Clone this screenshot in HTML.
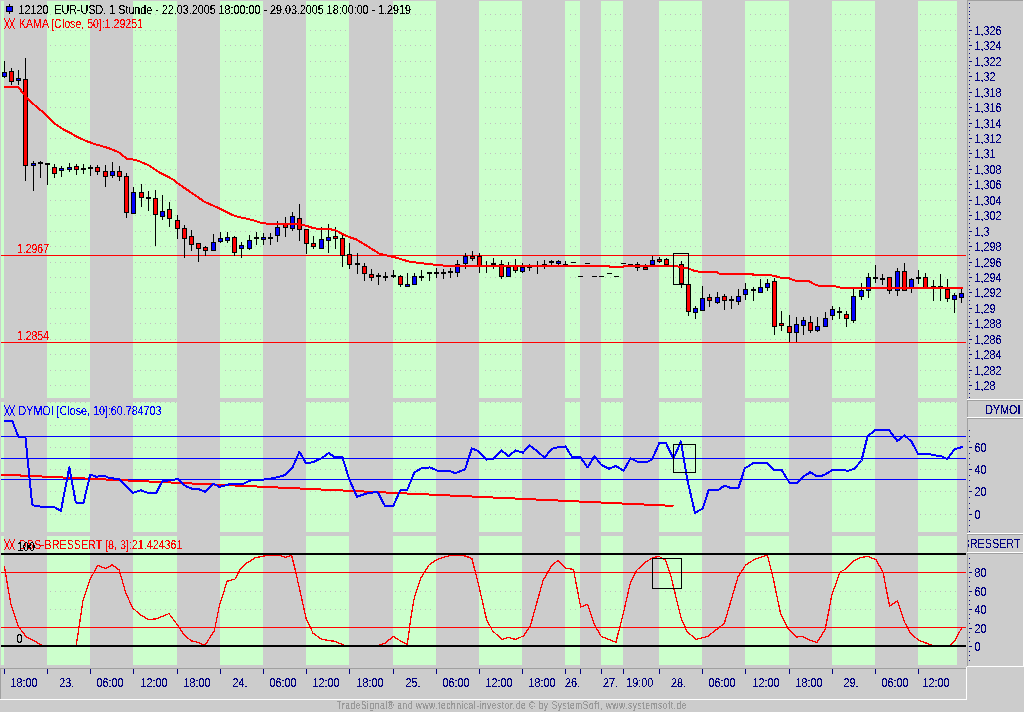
<!DOCTYPE html>
<html><head><meta charset="utf-8"><style>html,body{margin:0;padding:0;background:#cccccc;overflow:hidden}svg{display:block}text{font-family:"Liberation Sans",sans-serif}</style></head>
<body><svg width="1024" height="712" viewBox="0 0 1024 712" font-family="Liberation Sans, sans-serif"><defs><filter id="crisp" x="-0.1" y="-0.5" width="1.2" height="2"><feComponentTransfer><feFuncA type="discrete" tableValues="0 0 1 1 1"/></feComponentTransfer></filter></defs>
<rect x="0" y="0" width="1024" height="712" fill="#cccccc"/>
<rect x="1" y="1" width="3" height="397" fill="#ccffcc"/>
<rect x="47" y="1" width="43" height="397" fill="#ccffcc"/>
<rect x="133" y="1" width="44" height="397" fill="#ccffcc"/>
<rect x="220" y="1" width="43" height="397" fill="#ccffcc"/>
<rect x="306" y="1" width="43" height="397" fill="#ccffcc"/>
<rect x="393" y="1" width="43" height="397" fill="#ccffcc"/>
<rect x="479" y="1" width="43" height="397" fill="#ccffcc"/>
<rect x="565" y="1" width="15" height="397" fill="#ccffcc"/>
<rect x="601" y="1" width="22" height="397" fill="#ccffcc"/>
<rect x="659" y="1" width="43" height="397" fill="#ccffcc"/>
<rect x="745" y="1" width="44" height="397" fill="#ccffcc"/>
<rect x="832" y="1" width="43" height="397" fill="#ccffcc"/>
<rect x="918" y="1" width="39" height="397" fill="#ccffcc"/>
<rect x="1" y="402" width="3" height="130" fill="#ccffcc"/>
<rect x="47" y="402" width="43" height="130" fill="#ccffcc"/>
<rect x="133" y="402" width="44" height="130" fill="#ccffcc"/>
<rect x="220" y="402" width="43" height="130" fill="#ccffcc"/>
<rect x="306" y="402" width="43" height="130" fill="#ccffcc"/>
<rect x="393" y="402" width="43" height="130" fill="#ccffcc"/>
<rect x="479" y="402" width="43" height="130" fill="#ccffcc"/>
<rect x="565" y="402" width="15" height="130" fill="#ccffcc"/>
<rect x="601" y="402" width="22" height="130" fill="#ccffcc"/>
<rect x="659" y="402" width="43" height="130" fill="#ccffcc"/>
<rect x="745" y="402" width="44" height="130" fill="#ccffcc"/>
<rect x="832" y="402" width="43" height="130" fill="#ccffcc"/>
<rect x="918" y="402" width="39" height="130" fill="#ccffcc"/>
<rect x="1" y="536" width="3" height="129" fill="#ccffcc"/>
<rect x="47" y="536" width="43" height="129" fill="#ccffcc"/>
<rect x="133" y="536" width="44" height="129" fill="#ccffcc"/>
<rect x="220" y="536" width="43" height="129" fill="#ccffcc"/>
<rect x="306" y="536" width="43" height="129" fill="#ccffcc"/>
<rect x="393" y="536" width="43" height="129" fill="#ccffcc"/>
<rect x="479" y="536" width="43" height="129" fill="#ccffcc"/>
<rect x="565" y="536" width="15" height="129" fill="#ccffcc"/>
<rect x="601" y="536" width="22" height="129" fill="#ccffcc"/>
<rect x="659" y="536" width="43" height="129" fill="#ccffcc"/>
<rect x="745" y="536" width="44" height="129" fill="#ccffcc"/>
<rect x="832" y="536" width="43" height="129" fill="#ccffcc"/>
<rect x="918" y="536" width="39" height="129" fill="#ccffcc"/>
<path d="M50 14h1v1h-1zM55 14h1v1h-1zM60 14h1v1h-1zM65 14h1v1h-1zM70 14h1v1h-1zM75 14h1v1h-1zM80 14h1v1h-1zM85 14h1v1h-1zM135 14h1v1h-1zM140 14h1v1h-1zM145 14h1v1h-1zM150 14h1v1h-1zM155 14h1v1h-1zM160 14h1v1h-1zM165 14h1v1h-1zM170 14h1v1h-1zM175 14h1v1h-1zM225 14h1v1h-1zM230 14h1v1h-1zM235 14h1v1h-1zM240 14h1v1h-1zM245 14h1v1h-1zM250 14h1v1h-1zM255 14h1v1h-1zM260 14h1v1h-1zM310 14h1v1h-1zM315 14h1v1h-1zM320 14h1v1h-1zM325 14h1v1h-1zM330 14h1v1h-1zM335 14h1v1h-1zM340 14h1v1h-1zM345 14h1v1h-1zM395 14h1v1h-1zM400 14h1v1h-1zM405 14h1v1h-1zM410 14h1v1h-1zM415 14h1v1h-1zM420 14h1v1h-1zM425 14h1v1h-1zM430 14h1v1h-1zM485 14h1v1h-1zM490 14h1v1h-1zM495 14h1v1h-1zM500 14h1v1h-1zM505 14h1v1h-1zM510 14h1v1h-1zM515 14h1v1h-1zM520 14h1v1h-1zM570 14h1v1h-1zM575 14h1v1h-1zM605 14h1v1h-1zM610 14h1v1h-1zM615 14h1v1h-1zM620 14h1v1h-1zM665 14h1v1h-1zM670 14h1v1h-1zM675 14h1v1h-1zM680 14h1v1h-1zM685 14h1v1h-1zM690 14h1v1h-1zM695 14h1v1h-1zM700 14h1v1h-1zM750 14h1v1h-1zM755 14h1v1h-1zM760 14h1v1h-1zM765 14h1v1h-1zM770 14h1v1h-1zM775 14h1v1h-1zM780 14h1v1h-1zM785 14h1v1h-1zM835 14h1v1h-1zM840 14h1v1h-1zM845 14h1v1h-1zM850 14h1v1h-1zM855 14h1v1h-1zM860 14h1v1h-1zM865 14h1v1h-1zM870 14h1v1h-1zM920 14h1v1h-1zM925 14h1v1h-1zM930 14h1v1h-1zM935 14h1v1h-1zM940 14h1v1h-1zM945 14h1v1h-1zM950 14h1v1h-1zM955 14h1v1h-1zM50 30h1v1h-1zM55 30h1v1h-1zM60 30h1v1h-1zM65 30h1v1h-1zM70 30h1v1h-1zM75 30h1v1h-1zM80 30h1v1h-1zM85 30h1v1h-1zM135 30h1v1h-1zM140 30h1v1h-1zM145 30h1v1h-1zM150 30h1v1h-1zM155 30h1v1h-1zM160 30h1v1h-1zM165 30h1v1h-1zM170 30h1v1h-1zM175 30h1v1h-1zM225 30h1v1h-1zM230 30h1v1h-1zM235 30h1v1h-1zM240 30h1v1h-1zM245 30h1v1h-1zM250 30h1v1h-1zM255 30h1v1h-1zM260 30h1v1h-1zM310 30h1v1h-1zM315 30h1v1h-1zM320 30h1v1h-1zM325 30h1v1h-1zM330 30h1v1h-1zM335 30h1v1h-1zM340 30h1v1h-1zM345 30h1v1h-1zM395 30h1v1h-1zM400 30h1v1h-1zM405 30h1v1h-1zM410 30h1v1h-1zM415 30h1v1h-1zM420 30h1v1h-1zM425 30h1v1h-1zM430 30h1v1h-1zM485 30h1v1h-1zM490 30h1v1h-1zM495 30h1v1h-1zM500 30h1v1h-1zM505 30h1v1h-1zM510 30h1v1h-1zM515 30h1v1h-1zM520 30h1v1h-1zM570 30h1v1h-1zM575 30h1v1h-1zM605 30h1v1h-1zM610 30h1v1h-1zM615 30h1v1h-1zM620 30h1v1h-1zM665 30h1v1h-1zM670 30h1v1h-1zM675 30h1v1h-1zM680 30h1v1h-1zM685 30h1v1h-1zM690 30h1v1h-1zM695 30h1v1h-1zM700 30h1v1h-1zM750 30h1v1h-1zM755 30h1v1h-1zM760 30h1v1h-1zM765 30h1v1h-1zM770 30h1v1h-1zM775 30h1v1h-1zM780 30h1v1h-1zM785 30h1v1h-1zM835 30h1v1h-1zM840 30h1v1h-1zM845 30h1v1h-1zM850 30h1v1h-1zM855 30h1v1h-1zM860 30h1v1h-1zM865 30h1v1h-1zM870 30h1v1h-1zM920 30h1v1h-1zM925 30h1v1h-1zM930 30h1v1h-1zM935 30h1v1h-1zM940 30h1v1h-1zM945 30h1v1h-1zM950 30h1v1h-1zM955 30h1v1h-1zM50 45h1v1h-1zM55 45h1v1h-1zM60 45h1v1h-1zM65 45h1v1h-1zM70 45h1v1h-1zM75 45h1v1h-1zM80 45h1v1h-1zM85 45h1v1h-1zM135 45h1v1h-1zM140 45h1v1h-1zM145 45h1v1h-1zM150 45h1v1h-1zM155 45h1v1h-1zM160 45h1v1h-1zM165 45h1v1h-1zM170 45h1v1h-1zM175 45h1v1h-1zM225 45h1v1h-1zM230 45h1v1h-1zM235 45h1v1h-1zM240 45h1v1h-1zM245 45h1v1h-1zM250 45h1v1h-1zM255 45h1v1h-1zM260 45h1v1h-1zM310 45h1v1h-1zM315 45h1v1h-1zM320 45h1v1h-1zM325 45h1v1h-1zM330 45h1v1h-1zM335 45h1v1h-1zM340 45h1v1h-1zM345 45h1v1h-1zM395 45h1v1h-1zM400 45h1v1h-1zM405 45h1v1h-1zM410 45h1v1h-1zM415 45h1v1h-1zM420 45h1v1h-1zM425 45h1v1h-1zM430 45h1v1h-1zM485 45h1v1h-1zM490 45h1v1h-1zM495 45h1v1h-1zM500 45h1v1h-1zM505 45h1v1h-1zM510 45h1v1h-1zM515 45h1v1h-1zM520 45h1v1h-1zM570 45h1v1h-1zM575 45h1v1h-1zM605 45h1v1h-1zM610 45h1v1h-1zM615 45h1v1h-1zM620 45h1v1h-1zM665 45h1v1h-1zM670 45h1v1h-1zM675 45h1v1h-1zM680 45h1v1h-1zM685 45h1v1h-1zM690 45h1v1h-1zM695 45h1v1h-1zM700 45h1v1h-1zM750 45h1v1h-1zM755 45h1v1h-1zM760 45h1v1h-1zM765 45h1v1h-1zM770 45h1v1h-1zM775 45h1v1h-1zM780 45h1v1h-1zM785 45h1v1h-1zM835 45h1v1h-1zM840 45h1v1h-1zM845 45h1v1h-1zM850 45h1v1h-1zM855 45h1v1h-1zM860 45h1v1h-1zM865 45h1v1h-1zM870 45h1v1h-1zM920 45h1v1h-1zM925 45h1v1h-1zM930 45h1v1h-1zM935 45h1v1h-1zM940 45h1v1h-1zM945 45h1v1h-1zM950 45h1v1h-1zM955 45h1v1h-1zM50 61h1v1h-1zM55 61h1v1h-1zM60 61h1v1h-1zM65 61h1v1h-1zM70 61h1v1h-1zM75 61h1v1h-1zM80 61h1v1h-1zM85 61h1v1h-1zM135 61h1v1h-1zM140 61h1v1h-1zM145 61h1v1h-1zM150 61h1v1h-1zM155 61h1v1h-1zM160 61h1v1h-1zM165 61h1v1h-1zM170 61h1v1h-1zM175 61h1v1h-1zM225 61h1v1h-1zM230 61h1v1h-1zM235 61h1v1h-1zM240 61h1v1h-1zM245 61h1v1h-1zM250 61h1v1h-1zM255 61h1v1h-1zM260 61h1v1h-1zM310 61h1v1h-1zM315 61h1v1h-1zM320 61h1v1h-1zM325 61h1v1h-1zM330 61h1v1h-1zM335 61h1v1h-1zM340 61h1v1h-1zM345 61h1v1h-1zM395 61h1v1h-1zM400 61h1v1h-1zM405 61h1v1h-1zM410 61h1v1h-1zM415 61h1v1h-1zM420 61h1v1h-1zM425 61h1v1h-1zM430 61h1v1h-1zM485 61h1v1h-1zM490 61h1v1h-1zM495 61h1v1h-1zM500 61h1v1h-1zM505 61h1v1h-1zM510 61h1v1h-1zM515 61h1v1h-1zM520 61h1v1h-1zM570 61h1v1h-1zM575 61h1v1h-1zM605 61h1v1h-1zM610 61h1v1h-1zM615 61h1v1h-1zM620 61h1v1h-1zM665 61h1v1h-1zM670 61h1v1h-1zM675 61h1v1h-1zM680 61h1v1h-1zM685 61h1v1h-1zM690 61h1v1h-1zM695 61h1v1h-1zM700 61h1v1h-1zM750 61h1v1h-1zM755 61h1v1h-1zM760 61h1v1h-1zM765 61h1v1h-1zM770 61h1v1h-1zM775 61h1v1h-1zM780 61h1v1h-1zM785 61h1v1h-1zM835 61h1v1h-1zM840 61h1v1h-1zM845 61h1v1h-1zM850 61h1v1h-1zM855 61h1v1h-1zM860 61h1v1h-1zM865 61h1v1h-1zM870 61h1v1h-1zM920 61h1v1h-1zM925 61h1v1h-1zM930 61h1v1h-1zM935 61h1v1h-1zM940 61h1v1h-1zM945 61h1v1h-1zM950 61h1v1h-1zM955 61h1v1h-1zM50 76h1v1h-1zM55 76h1v1h-1zM60 76h1v1h-1zM65 76h1v1h-1zM70 76h1v1h-1zM75 76h1v1h-1zM80 76h1v1h-1zM85 76h1v1h-1zM135 76h1v1h-1zM140 76h1v1h-1zM145 76h1v1h-1zM150 76h1v1h-1zM155 76h1v1h-1zM160 76h1v1h-1zM165 76h1v1h-1zM170 76h1v1h-1zM175 76h1v1h-1zM225 76h1v1h-1zM230 76h1v1h-1zM235 76h1v1h-1zM240 76h1v1h-1zM245 76h1v1h-1zM250 76h1v1h-1zM255 76h1v1h-1zM260 76h1v1h-1zM310 76h1v1h-1zM315 76h1v1h-1zM320 76h1v1h-1zM325 76h1v1h-1zM330 76h1v1h-1zM335 76h1v1h-1zM340 76h1v1h-1zM345 76h1v1h-1zM395 76h1v1h-1zM400 76h1v1h-1zM405 76h1v1h-1zM410 76h1v1h-1zM415 76h1v1h-1zM420 76h1v1h-1zM425 76h1v1h-1zM430 76h1v1h-1zM485 76h1v1h-1zM490 76h1v1h-1zM495 76h1v1h-1zM500 76h1v1h-1zM505 76h1v1h-1zM510 76h1v1h-1zM515 76h1v1h-1zM520 76h1v1h-1zM570 76h1v1h-1zM575 76h1v1h-1zM605 76h1v1h-1zM610 76h1v1h-1zM615 76h1v1h-1zM620 76h1v1h-1zM665 76h1v1h-1zM670 76h1v1h-1zM675 76h1v1h-1zM680 76h1v1h-1zM685 76h1v1h-1zM690 76h1v1h-1zM695 76h1v1h-1zM700 76h1v1h-1zM750 76h1v1h-1zM755 76h1v1h-1zM760 76h1v1h-1zM765 76h1v1h-1zM770 76h1v1h-1zM775 76h1v1h-1zM780 76h1v1h-1zM785 76h1v1h-1zM835 76h1v1h-1zM840 76h1v1h-1zM845 76h1v1h-1zM850 76h1v1h-1zM855 76h1v1h-1zM860 76h1v1h-1zM865 76h1v1h-1zM870 76h1v1h-1zM920 76h1v1h-1zM925 76h1v1h-1zM930 76h1v1h-1zM935 76h1v1h-1zM940 76h1v1h-1zM945 76h1v1h-1zM950 76h1v1h-1zM955 76h1v1h-1zM50 92h1v1h-1zM55 92h1v1h-1zM60 92h1v1h-1zM65 92h1v1h-1zM70 92h1v1h-1zM75 92h1v1h-1zM80 92h1v1h-1zM85 92h1v1h-1zM135 92h1v1h-1zM140 92h1v1h-1zM145 92h1v1h-1zM150 92h1v1h-1zM155 92h1v1h-1zM160 92h1v1h-1zM165 92h1v1h-1zM170 92h1v1h-1zM175 92h1v1h-1zM225 92h1v1h-1zM230 92h1v1h-1zM235 92h1v1h-1zM240 92h1v1h-1zM245 92h1v1h-1zM250 92h1v1h-1zM255 92h1v1h-1zM260 92h1v1h-1zM310 92h1v1h-1zM315 92h1v1h-1zM320 92h1v1h-1zM325 92h1v1h-1zM330 92h1v1h-1zM335 92h1v1h-1zM340 92h1v1h-1zM345 92h1v1h-1zM395 92h1v1h-1zM400 92h1v1h-1zM405 92h1v1h-1zM410 92h1v1h-1zM415 92h1v1h-1zM420 92h1v1h-1zM425 92h1v1h-1zM430 92h1v1h-1zM485 92h1v1h-1zM490 92h1v1h-1zM495 92h1v1h-1zM500 92h1v1h-1zM505 92h1v1h-1zM510 92h1v1h-1zM515 92h1v1h-1zM520 92h1v1h-1zM570 92h1v1h-1zM575 92h1v1h-1zM605 92h1v1h-1zM610 92h1v1h-1zM615 92h1v1h-1zM620 92h1v1h-1zM665 92h1v1h-1zM670 92h1v1h-1zM675 92h1v1h-1zM680 92h1v1h-1zM685 92h1v1h-1zM690 92h1v1h-1zM695 92h1v1h-1zM700 92h1v1h-1zM750 92h1v1h-1zM755 92h1v1h-1zM760 92h1v1h-1zM765 92h1v1h-1zM770 92h1v1h-1zM775 92h1v1h-1zM780 92h1v1h-1zM785 92h1v1h-1zM835 92h1v1h-1zM840 92h1v1h-1zM845 92h1v1h-1zM850 92h1v1h-1zM855 92h1v1h-1zM860 92h1v1h-1zM865 92h1v1h-1zM870 92h1v1h-1zM920 92h1v1h-1zM925 92h1v1h-1zM930 92h1v1h-1zM935 92h1v1h-1zM940 92h1v1h-1zM945 92h1v1h-1zM950 92h1v1h-1zM955 92h1v1h-1zM50 107h1v1h-1zM55 107h1v1h-1zM60 107h1v1h-1zM65 107h1v1h-1zM70 107h1v1h-1zM75 107h1v1h-1zM80 107h1v1h-1zM85 107h1v1h-1zM135 107h1v1h-1zM140 107h1v1h-1zM145 107h1v1h-1zM150 107h1v1h-1zM155 107h1v1h-1zM160 107h1v1h-1zM165 107h1v1h-1zM170 107h1v1h-1zM175 107h1v1h-1zM225 107h1v1h-1zM230 107h1v1h-1zM235 107h1v1h-1zM240 107h1v1h-1zM245 107h1v1h-1zM250 107h1v1h-1zM255 107h1v1h-1zM260 107h1v1h-1zM310 107h1v1h-1zM315 107h1v1h-1zM320 107h1v1h-1zM325 107h1v1h-1zM330 107h1v1h-1zM335 107h1v1h-1zM340 107h1v1h-1zM345 107h1v1h-1zM395 107h1v1h-1zM400 107h1v1h-1zM405 107h1v1h-1zM410 107h1v1h-1zM415 107h1v1h-1zM420 107h1v1h-1zM425 107h1v1h-1zM430 107h1v1h-1zM485 107h1v1h-1zM490 107h1v1h-1zM495 107h1v1h-1zM500 107h1v1h-1zM505 107h1v1h-1zM510 107h1v1h-1zM515 107h1v1h-1zM520 107h1v1h-1zM570 107h1v1h-1zM575 107h1v1h-1zM605 107h1v1h-1zM610 107h1v1h-1zM615 107h1v1h-1zM620 107h1v1h-1zM665 107h1v1h-1zM670 107h1v1h-1zM675 107h1v1h-1zM680 107h1v1h-1zM685 107h1v1h-1zM690 107h1v1h-1zM695 107h1v1h-1zM700 107h1v1h-1zM750 107h1v1h-1zM755 107h1v1h-1zM760 107h1v1h-1zM765 107h1v1h-1zM770 107h1v1h-1zM775 107h1v1h-1zM780 107h1v1h-1zM785 107h1v1h-1zM835 107h1v1h-1zM840 107h1v1h-1zM845 107h1v1h-1zM850 107h1v1h-1zM855 107h1v1h-1zM860 107h1v1h-1zM865 107h1v1h-1zM870 107h1v1h-1zM920 107h1v1h-1zM925 107h1v1h-1zM930 107h1v1h-1zM935 107h1v1h-1zM940 107h1v1h-1zM945 107h1v1h-1zM950 107h1v1h-1zM955 107h1v1h-1zM50 123h1v1h-1zM55 123h1v1h-1zM60 123h1v1h-1zM65 123h1v1h-1zM70 123h1v1h-1zM75 123h1v1h-1zM80 123h1v1h-1zM85 123h1v1h-1zM135 123h1v1h-1zM140 123h1v1h-1zM145 123h1v1h-1zM150 123h1v1h-1zM155 123h1v1h-1zM160 123h1v1h-1zM165 123h1v1h-1zM170 123h1v1h-1zM175 123h1v1h-1zM225 123h1v1h-1zM230 123h1v1h-1zM235 123h1v1h-1zM240 123h1v1h-1zM245 123h1v1h-1zM250 123h1v1h-1zM255 123h1v1h-1zM260 123h1v1h-1zM310 123h1v1h-1zM315 123h1v1h-1zM320 123h1v1h-1zM325 123h1v1h-1zM330 123h1v1h-1zM335 123h1v1h-1zM340 123h1v1h-1zM345 123h1v1h-1zM395 123h1v1h-1zM400 123h1v1h-1zM405 123h1v1h-1zM410 123h1v1h-1zM415 123h1v1h-1zM420 123h1v1h-1zM425 123h1v1h-1zM430 123h1v1h-1zM485 123h1v1h-1zM490 123h1v1h-1zM495 123h1v1h-1zM500 123h1v1h-1zM505 123h1v1h-1zM510 123h1v1h-1zM515 123h1v1h-1zM520 123h1v1h-1zM570 123h1v1h-1zM575 123h1v1h-1zM605 123h1v1h-1zM610 123h1v1h-1zM615 123h1v1h-1zM620 123h1v1h-1zM665 123h1v1h-1zM670 123h1v1h-1zM675 123h1v1h-1zM680 123h1v1h-1zM685 123h1v1h-1zM690 123h1v1h-1zM695 123h1v1h-1zM700 123h1v1h-1zM750 123h1v1h-1zM755 123h1v1h-1zM760 123h1v1h-1zM765 123h1v1h-1zM770 123h1v1h-1zM775 123h1v1h-1zM780 123h1v1h-1zM785 123h1v1h-1zM835 123h1v1h-1zM840 123h1v1h-1zM845 123h1v1h-1zM850 123h1v1h-1zM855 123h1v1h-1zM860 123h1v1h-1zM865 123h1v1h-1zM870 123h1v1h-1zM920 123h1v1h-1zM925 123h1v1h-1zM930 123h1v1h-1zM935 123h1v1h-1zM940 123h1v1h-1zM945 123h1v1h-1zM950 123h1v1h-1zM955 123h1v1h-1zM50 138h1v1h-1zM55 138h1v1h-1zM60 138h1v1h-1zM65 138h1v1h-1zM70 138h1v1h-1zM75 138h1v1h-1zM80 138h1v1h-1zM85 138h1v1h-1zM135 138h1v1h-1zM140 138h1v1h-1zM145 138h1v1h-1zM150 138h1v1h-1zM155 138h1v1h-1zM160 138h1v1h-1zM165 138h1v1h-1zM170 138h1v1h-1zM175 138h1v1h-1zM225 138h1v1h-1zM230 138h1v1h-1zM235 138h1v1h-1zM240 138h1v1h-1zM245 138h1v1h-1zM250 138h1v1h-1zM255 138h1v1h-1zM260 138h1v1h-1zM310 138h1v1h-1zM315 138h1v1h-1zM320 138h1v1h-1zM325 138h1v1h-1zM330 138h1v1h-1zM335 138h1v1h-1zM340 138h1v1h-1zM345 138h1v1h-1zM395 138h1v1h-1zM400 138h1v1h-1zM405 138h1v1h-1zM410 138h1v1h-1zM415 138h1v1h-1zM420 138h1v1h-1zM425 138h1v1h-1zM430 138h1v1h-1zM485 138h1v1h-1zM490 138h1v1h-1zM495 138h1v1h-1zM500 138h1v1h-1zM505 138h1v1h-1zM510 138h1v1h-1zM515 138h1v1h-1zM520 138h1v1h-1zM570 138h1v1h-1zM575 138h1v1h-1zM605 138h1v1h-1zM610 138h1v1h-1zM615 138h1v1h-1zM620 138h1v1h-1zM665 138h1v1h-1zM670 138h1v1h-1zM675 138h1v1h-1zM680 138h1v1h-1zM685 138h1v1h-1zM690 138h1v1h-1zM695 138h1v1h-1zM700 138h1v1h-1zM750 138h1v1h-1zM755 138h1v1h-1zM760 138h1v1h-1zM765 138h1v1h-1zM770 138h1v1h-1zM775 138h1v1h-1zM780 138h1v1h-1zM785 138h1v1h-1zM835 138h1v1h-1zM840 138h1v1h-1zM845 138h1v1h-1zM850 138h1v1h-1zM855 138h1v1h-1zM860 138h1v1h-1zM865 138h1v1h-1zM870 138h1v1h-1zM920 138h1v1h-1zM925 138h1v1h-1zM930 138h1v1h-1zM935 138h1v1h-1zM940 138h1v1h-1zM945 138h1v1h-1zM950 138h1v1h-1zM955 138h1v1h-1zM50 153h1v1h-1zM55 153h1v1h-1zM60 153h1v1h-1zM65 153h1v1h-1zM70 153h1v1h-1zM75 153h1v1h-1zM80 153h1v1h-1zM85 153h1v1h-1zM135 153h1v1h-1zM140 153h1v1h-1zM145 153h1v1h-1zM150 153h1v1h-1zM155 153h1v1h-1zM160 153h1v1h-1zM165 153h1v1h-1zM170 153h1v1h-1zM175 153h1v1h-1zM225 153h1v1h-1zM230 153h1v1h-1zM235 153h1v1h-1zM240 153h1v1h-1zM245 153h1v1h-1zM250 153h1v1h-1zM255 153h1v1h-1zM260 153h1v1h-1zM310 153h1v1h-1zM315 153h1v1h-1zM320 153h1v1h-1zM325 153h1v1h-1zM330 153h1v1h-1zM335 153h1v1h-1zM340 153h1v1h-1zM345 153h1v1h-1zM395 153h1v1h-1zM400 153h1v1h-1zM405 153h1v1h-1zM410 153h1v1h-1zM415 153h1v1h-1zM420 153h1v1h-1zM425 153h1v1h-1zM430 153h1v1h-1zM485 153h1v1h-1zM490 153h1v1h-1zM495 153h1v1h-1zM500 153h1v1h-1zM505 153h1v1h-1zM510 153h1v1h-1zM515 153h1v1h-1zM520 153h1v1h-1zM570 153h1v1h-1zM575 153h1v1h-1zM605 153h1v1h-1zM610 153h1v1h-1zM615 153h1v1h-1zM620 153h1v1h-1zM665 153h1v1h-1zM670 153h1v1h-1zM675 153h1v1h-1zM680 153h1v1h-1zM685 153h1v1h-1zM690 153h1v1h-1zM695 153h1v1h-1zM700 153h1v1h-1zM750 153h1v1h-1zM755 153h1v1h-1zM760 153h1v1h-1zM765 153h1v1h-1zM770 153h1v1h-1zM775 153h1v1h-1zM780 153h1v1h-1zM785 153h1v1h-1zM835 153h1v1h-1zM840 153h1v1h-1zM845 153h1v1h-1zM850 153h1v1h-1zM855 153h1v1h-1zM860 153h1v1h-1zM865 153h1v1h-1zM870 153h1v1h-1zM920 153h1v1h-1zM925 153h1v1h-1zM930 153h1v1h-1zM935 153h1v1h-1zM940 153h1v1h-1zM945 153h1v1h-1zM950 153h1v1h-1zM955 153h1v1h-1zM50 169h1v1h-1zM55 169h1v1h-1zM60 169h1v1h-1zM65 169h1v1h-1zM70 169h1v1h-1zM75 169h1v1h-1zM80 169h1v1h-1zM85 169h1v1h-1zM135 169h1v1h-1zM140 169h1v1h-1zM145 169h1v1h-1zM150 169h1v1h-1zM155 169h1v1h-1zM160 169h1v1h-1zM165 169h1v1h-1zM170 169h1v1h-1zM175 169h1v1h-1zM225 169h1v1h-1zM230 169h1v1h-1zM235 169h1v1h-1zM240 169h1v1h-1zM245 169h1v1h-1zM250 169h1v1h-1zM255 169h1v1h-1zM260 169h1v1h-1zM310 169h1v1h-1zM315 169h1v1h-1zM320 169h1v1h-1zM325 169h1v1h-1zM330 169h1v1h-1zM335 169h1v1h-1zM340 169h1v1h-1zM345 169h1v1h-1zM395 169h1v1h-1zM400 169h1v1h-1zM405 169h1v1h-1zM410 169h1v1h-1zM415 169h1v1h-1zM420 169h1v1h-1zM425 169h1v1h-1zM430 169h1v1h-1zM485 169h1v1h-1zM490 169h1v1h-1zM495 169h1v1h-1zM500 169h1v1h-1zM505 169h1v1h-1zM510 169h1v1h-1zM515 169h1v1h-1zM520 169h1v1h-1zM570 169h1v1h-1zM575 169h1v1h-1zM605 169h1v1h-1zM610 169h1v1h-1zM615 169h1v1h-1zM620 169h1v1h-1zM665 169h1v1h-1zM670 169h1v1h-1zM675 169h1v1h-1zM680 169h1v1h-1zM685 169h1v1h-1zM690 169h1v1h-1zM695 169h1v1h-1zM700 169h1v1h-1zM750 169h1v1h-1zM755 169h1v1h-1zM760 169h1v1h-1zM765 169h1v1h-1zM770 169h1v1h-1zM775 169h1v1h-1zM780 169h1v1h-1zM785 169h1v1h-1zM835 169h1v1h-1zM840 169h1v1h-1zM845 169h1v1h-1zM850 169h1v1h-1zM855 169h1v1h-1zM860 169h1v1h-1zM865 169h1v1h-1zM870 169h1v1h-1zM920 169h1v1h-1zM925 169h1v1h-1zM930 169h1v1h-1zM935 169h1v1h-1zM940 169h1v1h-1zM945 169h1v1h-1zM950 169h1v1h-1zM955 169h1v1h-1zM50 184h1v1h-1zM55 184h1v1h-1zM60 184h1v1h-1zM65 184h1v1h-1zM70 184h1v1h-1zM75 184h1v1h-1zM80 184h1v1h-1zM85 184h1v1h-1zM135 184h1v1h-1zM140 184h1v1h-1zM145 184h1v1h-1zM150 184h1v1h-1zM155 184h1v1h-1zM160 184h1v1h-1zM165 184h1v1h-1zM170 184h1v1h-1zM175 184h1v1h-1zM225 184h1v1h-1zM230 184h1v1h-1zM235 184h1v1h-1zM240 184h1v1h-1zM245 184h1v1h-1zM250 184h1v1h-1zM255 184h1v1h-1zM260 184h1v1h-1zM310 184h1v1h-1zM315 184h1v1h-1zM320 184h1v1h-1zM325 184h1v1h-1zM330 184h1v1h-1zM335 184h1v1h-1zM340 184h1v1h-1zM345 184h1v1h-1zM395 184h1v1h-1zM400 184h1v1h-1zM405 184h1v1h-1zM410 184h1v1h-1zM415 184h1v1h-1zM420 184h1v1h-1zM425 184h1v1h-1zM430 184h1v1h-1zM485 184h1v1h-1zM490 184h1v1h-1zM495 184h1v1h-1zM500 184h1v1h-1zM505 184h1v1h-1zM510 184h1v1h-1zM515 184h1v1h-1zM520 184h1v1h-1zM570 184h1v1h-1zM575 184h1v1h-1zM605 184h1v1h-1zM610 184h1v1h-1zM615 184h1v1h-1zM620 184h1v1h-1zM665 184h1v1h-1zM670 184h1v1h-1zM675 184h1v1h-1zM680 184h1v1h-1zM685 184h1v1h-1zM690 184h1v1h-1zM695 184h1v1h-1zM700 184h1v1h-1zM750 184h1v1h-1zM755 184h1v1h-1zM760 184h1v1h-1zM765 184h1v1h-1zM770 184h1v1h-1zM775 184h1v1h-1zM780 184h1v1h-1zM785 184h1v1h-1zM835 184h1v1h-1zM840 184h1v1h-1zM845 184h1v1h-1zM850 184h1v1h-1zM855 184h1v1h-1zM860 184h1v1h-1zM865 184h1v1h-1zM870 184h1v1h-1zM920 184h1v1h-1zM925 184h1v1h-1zM930 184h1v1h-1zM935 184h1v1h-1zM940 184h1v1h-1zM945 184h1v1h-1zM950 184h1v1h-1zM955 184h1v1h-1zM50 200h1v1h-1zM55 200h1v1h-1zM60 200h1v1h-1zM65 200h1v1h-1zM70 200h1v1h-1zM75 200h1v1h-1zM80 200h1v1h-1zM85 200h1v1h-1zM135 200h1v1h-1zM140 200h1v1h-1zM145 200h1v1h-1zM150 200h1v1h-1zM155 200h1v1h-1zM160 200h1v1h-1zM165 200h1v1h-1zM170 200h1v1h-1zM175 200h1v1h-1zM225 200h1v1h-1zM230 200h1v1h-1zM235 200h1v1h-1zM240 200h1v1h-1zM245 200h1v1h-1zM250 200h1v1h-1zM255 200h1v1h-1zM260 200h1v1h-1zM310 200h1v1h-1zM315 200h1v1h-1zM320 200h1v1h-1zM325 200h1v1h-1zM330 200h1v1h-1zM335 200h1v1h-1zM340 200h1v1h-1zM345 200h1v1h-1zM395 200h1v1h-1zM400 200h1v1h-1zM405 200h1v1h-1zM410 200h1v1h-1zM415 200h1v1h-1zM420 200h1v1h-1zM425 200h1v1h-1zM430 200h1v1h-1zM485 200h1v1h-1zM490 200h1v1h-1zM495 200h1v1h-1zM500 200h1v1h-1zM505 200h1v1h-1zM510 200h1v1h-1zM515 200h1v1h-1zM520 200h1v1h-1zM570 200h1v1h-1zM575 200h1v1h-1zM605 200h1v1h-1zM610 200h1v1h-1zM615 200h1v1h-1zM620 200h1v1h-1zM665 200h1v1h-1zM670 200h1v1h-1zM675 200h1v1h-1zM680 200h1v1h-1zM685 200h1v1h-1zM690 200h1v1h-1zM695 200h1v1h-1zM700 200h1v1h-1zM750 200h1v1h-1zM755 200h1v1h-1zM760 200h1v1h-1zM765 200h1v1h-1zM770 200h1v1h-1zM775 200h1v1h-1zM780 200h1v1h-1zM785 200h1v1h-1zM835 200h1v1h-1zM840 200h1v1h-1zM845 200h1v1h-1zM850 200h1v1h-1zM855 200h1v1h-1zM860 200h1v1h-1zM865 200h1v1h-1zM870 200h1v1h-1zM920 200h1v1h-1zM925 200h1v1h-1zM930 200h1v1h-1zM935 200h1v1h-1zM940 200h1v1h-1zM945 200h1v1h-1zM950 200h1v1h-1zM955 200h1v1h-1zM50 215h1v1h-1zM55 215h1v1h-1zM60 215h1v1h-1zM65 215h1v1h-1zM70 215h1v1h-1zM75 215h1v1h-1zM80 215h1v1h-1zM85 215h1v1h-1zM135 215h1v1h-1zM140 215h1v1h-1zM145 215h1v1h-1zM150 215h1v1h-1zM155 215h1v1h-1zM160 215h1v1h-1zM165 215h1v1h-1zM170 215h1v1h-1zM175 215h1v1h-1zM225 215h1v1h-1zM230 215h1v1h-1zM235 215h1v1h-1zM240 215h1v1h-1zM245 215h1v1h-1zM250 215h1v1h-1zM255 215h1v1h-1zM260 215h1v1h-1zM310 215h1v1h-1zM315 215h1v1h-1zM320 215h1v1h-1zM325 215h1v1h-1zM330 215h1v1h-1zM335 215h1v1h-1zM340 215h1v1h-1zM345 215h1v1h-1zM395 215h1v1h-1zM400 215h1v1h-1zM405 215h1v1h-1zM410 215h1v1h-1zM415 215h1v1h-1zM420 215h1v1h-1zM425 215h1v1h-1zM430 215h1v1h-1zM485 215h1v1h-1zM490 215h1v1h-1zM495 215h1v1h-1zM500 215h1v1h-1zM505 215h1v1h-1zM510 215h1v1h-1zM515 215h1v1h-1zM520 215h1v1h-1zM570 215h1v1h-1zM575 215h1v1h-1zM605 215h1v1h-1zM610 215h1v1h-1zM615 215h1v1h-1zM620 215h1v1h-1zM665 215h1v1h-1zM670 215h1v1h-1zM675 215h1v1h-1zM680 215h1v1h-1zM685 215h1v1h-1zM690 215h1v1h-1zM695 215h1v1h-1zM700 215h1v1h-1zM750 215h1v1h-1zM755 215h1v1h-1zM760 215h1v1h-1zM765 215h1v1h-1zM770 215h1v1h-1zM775 215h1v1h-1zM780 215h1v1h-1zM785 215h1v1h-1zM835 215h1v1h-1zM840 215h1v1h-1zM845 215h1v1h-1zM850 215h1v1h-1zM855 215h1v1h-1zM860 215h1v1h-1zM865 215h1v1h-1zM870 215h1v1h-1zM920 215h1v1h-1zM925 215h1v1h-1zM930 215h1v1h-1zM935 215h1v1h-1zM940 215h1v1h-1zM945 215h1v1h-1zM950 215h1v1h-1zM955 215h1v1h-1zM50 231h1v1h-1zM55 231h1v1h-1zM60 231h1v1h-1zM65 231h1v1h-1zM70 231h1v1h-1zM75 231h1v1h-1zM80 231h1v1h-1zM85 231h1v1h-1zM135 231h1v1h-1zM140 231h1v1h-1zM145 231h1v1h-1zM150 231h1v1h-1zM155 231h1v1h-1zM160 231h1v1h-1zM165 231h1v1h-1zM170 231h1v1h-1zM175 231h1v1h-1zM225 231h1v1h-1zM230 231h1v1h-1zM235 231h1v1h-1zM240 231h1v1h-1zM245 231h1v1h-1zM250 231h1v1h-1zM255 231h1v1h-1zM260 231h1v1h-1zM310 231h1v1h-1zM315 231h1v1h-1zM320 231h1v1h-1zM325 231h1v1h-1zM330 231h1v1h-1zM335 231h1v1h-1zM340 231h1v1h-1zM345 231h1v1h-1zM395 231h1v1h-1zM400 231h1v1h-1zM405 231h1v1h-1zM410 231h1v1h-1zM415 231h1v1h-1zM420 231h1v1h-1zM425 231h1v1h-1zM430 231h1v1h-1zM485 231h1v1h-1zM490 231h1v1h-1zM495 231h1v1h-1zM500 231h1v1h-1zM505 231h1v1h-1zM510 231h1v1h-1zM515 231h1v1h-1zM520 231h1v1h-1zM570 231h1v1h-1zM575 231h1v1h-1zM605 231h1v1h-1zM610 231h1v1h-1zM615 231h1v1h-1zM620 231h1v1h-1zM665 231h1v1h-1zM670 231h1v1h-1zM675 231h1v1h-1zM680 231h1v1h-1zM685 231h1v1h-1zM690 231h1v1h-1zM695 231h1v1h-1zM700 231h1v1h-1zM750 231h1v1h-1zM755 231h1v1h-1zM760 231h1v1h-1zM765 231h1v1h-1zM770 231h1v1h-1zM775 231h1v1h-1zM780 231h1v1h-1zM785 231h1v1h-1zM835 231h1v1h-1zM840 231h1v1h-1zM845 231h1v1h-1zM850 231h1v1h-1zM855 231h1v1h-1zM860 231h1v1h-1zM865 231h1v1h-1zM870 231h1v1h-1zM920 231h1v1h-1zM925 231h1v1h-1zM930 231h1v1h-1zM935 231h1v1h-1zM940 231h1v1h-1zM945 231h1v1h-1zM950 231h1v1h-1zM955 231h1v1h-1zM50 246h1v1h-1zM55 246h1v1h-1zM60 246h1v1h-1zM65 246h1v1h-1zM70 246h1v1h-1zM75 246h1v1h-1zM80 246h1v1h-1zM85 246h1v1h-1zM135 246h1v1h-1zM140 246h1v1h-1zM145 246h1v1h-1zM150 246h1v1h-1zM155 246h1v1h-1zM160 246h1v1h-1zM165 246h1v1h-1zM170 246h1v1h-1zM175 246h1v1h-1zM225 246h1v1h-1zM230 246h1v1h-1zM235 246h1v1h-1zM240 246h1v1h-1zM245 246h1v1h-1zM250 246h1v1h-1zM255 246h1v1h-1zM260 246h1v1h-1zM310 246h1v1h-1zM315 246h1v1h-1zM320 246h1v1h-1zM325 246h1v1h-1zM330 246h1v1h-1zM335 246h1v1h-1zM340 246h1v1h-1zM345 246h1v1h-1zM395 246h1v1h-1zM400 246h1v1h-1zM405 246h1v1h-1zM410 246h1v1h-1zM415 246h1v1h-1zM420 246h1v1h-1zM425 246h1v1h-1zM430 246h1v1h-1zM485 246h1v1h-1zM490 246h1v1h-1zM495 246h1v1h-1zM500 246h1v1h-1zM505 246h1v1h-1zM510 246h1v1h-1zM515 246h1v1h-1zM520 246h1v1h-1zM570 246h1v1h-1zM575 246h1v1h-1zM605 246h1v1h-1zM610 246h1v1h-1zM615 246h1v1h-1zM620 246h1v1h-1zM665 246h1v1h-1zM670 246h1v1h-1zM675 246h1v1h-1zM680 246h1v1h-1zM685 246h1v1h-1zM690 246h1v1h-1zM695 246h1v1h-1zM700 246h1v1h-1zM750 246h1v1h-1zM755 246h1v1h-1zM760 246h1v1h-1zM765 246h1v1h-1zM770 246h1v1h-1zM775 246h1v1h-1zM780 246h1v1h-1zM785 246h1v1h-1zM835 246h1v1h-1zM840 246h1v1h-1zM845 246h1v1h-1zM850 246h1v1h-1zM855 246h1v1h-1zM860 246h1v1h-1zM865 246h1v1h-1zM870 246h1v1h-1zM920 246h1v1h-1zM925 246h1v1h-1zM930 246h1v1h-1zM935 246h1v1h-1zM940 246h1v1h-1zM945 246h1v1h-1zM950 246h1v1h-1zM955 246h1v1h-1zM50 262h1v1h-1zM55 262h1v1h-1zM60 262h1v1h-1zM65 262h1v1h-1zM70 262h1v1h-1zM75 262h1v1h-1zM80 262h1v1h-1zM85 262h1v1h-1zM135 262h1v1h-1zM140 262h1v1h-1zM145 262h1v1h-1zM150 262h1v1h-1zM155 262h1v1h-1zM160 262h1v1h-1zM165 262h1v1h-1zM170 262h1v1h-1zM175 262h1v1h-1zM225 262h1v1h-1zM230 262h1v1h-1zM235 262h1v1h-1zM240 262h1v1h-1zM245 262h1v1h-1zM250 262h1v1h-1zM255 262h1v1h-1zM260 262h1v1h-1zM310 262h1v1h-1zM315 262h1v1h-1zM320 262h1v1h-1zM325 262h1v1h-1zM330 262h1v1h-1zM335 262h1v1h-1zM340 262h1v1h-1zM345 262h1v1h-1zM395 262h1v1h-1zM400 262h1v1h-1zM405 262h1v1h-1zM410 262h1v1h-1zM415 262h1v1h-1zM420 262h1v1h-1zM425 262h1v1h-1zM430 262h1v1h-1zM485 262h1v1h-1zM490 262h1v1h-1zM495 262h1v1h-1zM500 262h1v1h-1zM505 262h1v1h-1zM510 262h1v1h-1zM515 262h1v1h-1zM520 262h1v1h-1zM570 262h1v1h-1zM575 262h1v1h-1zM605 262h1v1h-1zM610 262h1v1h-1zM615 262h1v1h-1zM620 262h1v1h-1zM665 262h1v1h-1zM670 262h1v1h-1zM675 262h1v1h-1zM680 262h1v1h-1zM685 262h1v1h-1zM690 262h1v1h-1zM695 262h1v1h-1zM700 262h1v1h-1zM750 262h1v1h-1zM755 262h1v1h-1zM760 262h1v1h-1zM765 262h1v1h-1zM770 262h1v1h-1zM775 262h1v1h-1zM780 262h1v1h-1zM785 262h1v1h-1zM835 262h1v1h-1zM840 262h1v1h-1zM845 262h1v1h-1zM850 262h1v1h-1zM855 262h1v1h-1zM860 262h1v1h-1zM865 262h1v1h-1zM870 262h1v1h-1zM920 262h1v1h-1zM925 262h1v1h-1zM930 262h1v1h-1zM935 262h1v1h-1zM940 262h1v1h-1zM945 262h1v1h-1zM950 262h1v1h-1zM955 262h1v1h-1zM50 277h1v1h-1zM55 277h1v1h-1zM60 277h1v1h-1zM65 277h1v1h-1zM70 277h1v1h-1zM75 277h1v1h-1zM80 277h1v1h-1zM85 277h1v1h-1zM135 277h1v1h-1zM140 277h1v1h-1zM145 277h1v1h-1zM150 277h1v1h-1zM155 277h1v1h-1zM160 277h1v1h-1zM165 277h1v1h-1zM170 277h1v1h-1zM175 277h1v1h-1zM225 277h1v1h-1zM230 277h1v1h-1zM235 277h1v1h-1zM240 277h1v1h-1zM245 277h1v1h-1zM250 277h1v1h-1zM255 277h1v1h-1zM260 277h1v1h-1zM310 277h1v1h-1zM315 277h1v1h-1zM320 277h1v1h-1zM325 277h1v1h-1zM330 277h1v1h-1zM335 277h1v1h-1zM340 277h1v1h-1zM345 277h1v1h-1zM395 277h1v1h-1zM400 277h1v1h-1zM405 277h1v1h-1zM410 277h1v1h-1zM415 277h1v1h-1zM420 277h1v1h-1zM425 277h1v1h-1zM430 277h1v1h-1zM485 277h1v1h-1zM490 277h1v1h-1zM495 277h1v1h-1zM500 277h1v1h-1zM505 277h1v1h-1zM510 277h1v1h-1zM515 277h1v1h-1zM520 277h1v1h-1zM570 277h1v1h-1zM575 277h1v1h-1zM605 277h1v1h-1zM610 277h1v1h-1zM615 277h1v1h-1zM620 277h1v1h-1zM665 277h1v1h-1zM670 277h1v1h-1zM675 277h1v1h-1zM680 277h1v1h-1zM685 277h1v1h-1zM690 277h1v1h-1zM695 277h1v1h-1zM700 277h1v1h-1zM750 277h1v1h-1zM755 277h1v1h-1zM760 277h1v1h-1zM765 277h1v1h-1zM770 277h1v1h-1zM775 277h1v1h-1zM780 277h1v1h-1zM785 277h1v1h-1zM835 277h1v1h-1zM840 277h1v1h-1zM845 277h1v1h-1zM850 277h1v1h-1zM855 277h1v1h-1zM860 277h1v1h-1zM865 277h1v1h-1zM870 277h1v1h-1zM920 277h1v1h-1zM925 277h1v1h-1zM930 277h1v1h-1zM935 277h1v1h-1zM940 277h1v1h-1zM945 277h1v1h-1zM950 277h1v1h-1zM955 277h1v1h-1zM50 292h1v1h-1zM55 292h1v1h-1zM60 292h1v1h-1zM65 292h1v1h-1zM70 292h1v1h-1zM75 292h1v1h-1zM80 292h1v1h-1zM85 292h1v1h-1zM135 292h1v1h-1zM140 292h1v1h-1zM145 292h1v1h-1zM150 292h1v1h-1zM155 292h1v1h-1zM160 292h1v1h-1zM165 292h1v1h-1zM170 292h1v1h-1zM175 292h1v1h-1zM225 292h1v1h-1zM230 292h1v1h-1zM235 292h1v1h-1zM240 292h1v1h-1zM245 292h1v1h-1zM250 292h1v1h-1zM255 292h1v1h-1zM260 292h1v1h-1zM310 292h1v1h-1zM315 292h1v1h-1zM320 292h1v1h-1zM325 292h1v1h-1zM330 292h1v1h-1zM335 292h1v1h-1zM340 292h1v1h-1zM345 292h1v1h-1zM395 292h1v1h-1zM400 292h1v1h-1zM405 292h1v1h-1zM410 292h1v1h-1zM415 292h1v1h-1zM420 292h1v1h-1zM425 292h1v1h-1zM430 292h1v1h-1zM485 292h1v1h-1zM490 292h1v1h-1zM495 292h1v1h-1zM500 292h1v1h-1zM505 292h1v1h-1zM510 292h1v1h-1zM515 292h1v1h-1zM520 292h1v1h-1zM570 292h1v1h-1zM575 292h1v1h-1zM605 292h1v1h-1zM610 292h1v1h-1zM615 292h1v1h-1zM620 292h1v1h-1zM665 292h1v1h-1zM670 292h1v1h-1zM675 292h1v1h-1zM680 292h1v1h-1zM685 292h1v1h-1zM690 292h1v1h-1zM695 292h1v1h-1zM700 292h1v1h-1zM750 292h1v1h-1zM755 292h1v1h-1zM760 292h1v1h-1zM765 292h1v1h-1zM770 292h1v1h-1zM775 292h1v1h-1zM780 292h1v1h-1zM785 292h1v1h-1zM835 292h1v1h-1zM840 292h1v1h-1zM845 292h1v1h-1zM850 292h1v1h-1zM855 292h1v1h-1zM860 292h1v1h-1zM865 292h1v1h-1zM870 292h1v1h-1zM920 292h1v1h-1zM925 292h1v1h-1zM930 292h1v1h-1zM935 292h1v1h-1zM940 292h1v1h-1zM945 292h1v1h-1zM950 292h1v1h-1zM955 292h1v1h-1zM50 308h1v1h-1zM55 308h1v1h-1zM60 308h1v1h-1zM65 308h1v1h-1zM70 308h1v1h-1zM75 308h1v1h-1zM80 308h1v1h-1zM85 308h1v1h-1zM135 308h1v1h-1zM140 308h1v1h-1zM145 308h1v1h-1zM150 308h1v1h-1zM155 308h1v1h-1zM160 308h1v1h-1zM165 308h1v1h-1zM170 308h1v1h-1zM175 308h1v1h-1zM225 308h1v1h-1zM230 308h1v1h-1zM235 308h1v1h-1zM240 308h1v1h-1zM245 308h1v1h-1zM250 308h1v1h-1zM255 308h1v1h-1zM260 308h1v1h-1zM310 308h1v1h-1zM315 308h1v1h-1zM320 308h1v1h-1zM325 308h1v1h-1zM330 308h1v1h-1zM335 308h1v1h-1zM340 308h1v1h-1zM345 308h1v1h-1zM395 308h1v1h-1zM400 308h1v1h-1zM405 308h1v1h-1zM410 308h1v1h-1zM415 308h1v1h-1zM420 308h1v1h-1zM425 308h1v1h-1zM430 308h1v1h-1zM485 308h1v1h-1zM490 308h1v1h-1zM495 308h1v1h-1zM500 308h1v1h-1zM505 308h1v1h-1zM510 308h1v1h-1zM515 308h1v1h-1zM520 308h1v1h-1zM570 308h1v1h-1zM575 308h1v1h-1zM605 308h1v1h-1zM610 308h1v1h-1zM615 308h1v1h-1zM620 308h1v1h-1zM665 308h1v1h-1zM670 308h1v1h-1zM675 308h1v1h-1zM680 308h1v1h-1zM685 308h1v1h-1zM690 308h1v1h-1zM695 308h1v1h-1zM700 308h1v1h-1zM750 308h1v1h-1zM755 308h1v1h-1zM760 308h1v1h-1zM765 308h1v1h-1zM770 308h1v1h-1zM775 308h1v1h-1zM780 308h1v1h-1zM785 308h1v1h-1zM835 308h1v1h-1zM840 308h1v1h-1zM845 308h1v1h-1zM850 308h1v1h-1zM855 308h1v1h-1zM860 308h1v1h-1zM865 308h1v1h-1zM870 308h1v1h-1zM920 308h1v1h-1zM925 308h1v1h-1zM930 308h1v1h-1zM935 308h1v1h-1zM940 308h1v1h-1zM945 308h1v1h-1zM950 308h1v1h-1zM955 308h1v1h-1zM50 323h1v1h-1zM55 323h1v1h-1zM60 323h1v1h-1zM65 323h1v1h-1zM70 323h1v1h-1zM75 323h1v1h-1zM80 323h1v1h-1zM85 323h1v1h-1zM135 323h1v1h-1zM140 323h1v1h-1zM145 323h1v1h-1zM150 323h1v1h-1zM155 323h1v1h-1zM160 323h1v1h-1zM165 323h1v1h-1zM170 323h1v1h-1zM175 323h1v1h-1zM225 323h1v1h-1zM230 323h1v1h-1zM235 323h1v1h-1zM240 323h1v1h-1zM245 323h1v1h-1zM250 323h1v1h-1zM255 323h1v1h-1zM260 323h1v1h-1zM310 323h1v1h-1zM315 323h1v1h-1zM320 323h1v1h-1zM325 323h1v1h-1zM330 323h1v1h-1zM335 323h1v1h-1zM340 323h1v1h-1zM345 323h1v1h-1zM395 323h1v1h-1zM400 323h1v1h-1zM405 323h1v1h-1zM410 323h1v1h-1zM415 323h1v1h-1zM420 323h1v1h-1zM425 323h1v1h-1zM430 323h1v1h-1zM485 323h1v1h-1zM490 323h1v1h-1zM495 323h1v1h-1zM500 323h1v1h-1zM505 323h1v1h-1zM510 323h1v1h-1zM515 323h1v1h-1zM520 323h1v1h-1zM570 323h1v1h-1zM575 323h1v1h-1zM605 323h1v1h-1zM610 323h1v1h-1zM615 323h1v1h-1zM620 323h1v1h-1zM665 323h1v1h-1zM670 323h1v1h-1zM675 323h1v1h-1zM680 323h1v1h-1zM685 323h1v1h-1zM690 323h1v1h-1zM695 323h1v1h-1zM700 323h1v1h-1zM750 323h1v1h-1zM755 323h1v1h-1zM760 323h1v1h-1zM765 323h1v1h-1zM770 323h1v1h-1zM775 323h1v1h-1zM780 323h1v1h-1zM785 323h1v1h-1zM835 323h1v1h-1zM840 323h1v1h-1zM845 323h1v1h-1zM850 323h1v1h-1zM855 323h1v1h-1zM860 323h1v1h-1zM865 323h1v1h-1zM870 323h1v1h-1zM920 323h1v1h-1zM925 323h1v1h-1zM930 323h1v1h-1zM935 323h1v1h-1zM940 323h1v1h-1zM945 323h1v1h-1zM950 323h1v1h-1zM955 323h1v1h-1zM50 339h1v1h-1zM55 339h1v1h-1zM60 339h1v1h-1zM65 339h1v1h-1zM70 339h1v1h-1zM75 339h1v1h-1zM80 339h1v1h-1zM85 339h1v1h-1zM135 339h1v1h-1zM140 339h1v1h-1zM145 339h1v1h-1zM150 339h1v1h-1zM155 339h1v1h-1zM160 339h1v1h-1zM165 339h1v1h-1zM170 339h1v1h-1zM175 339h1v1h-1zM225 339h1v1h-1zM230 339h1v1h-1zM235 339h1v1h-1zM240 339h1v1h-1zM245 339h1v1h-1zM250 339h1v1h-1zM255 339h1v1h-1zM260 339h1v1h-1zM310 339h1v1h-1zM315 339h1v1h-1zM320 339h1v1h-1zM325 339h1v1h-1zM330 339h1v1h-1zM335 339h1v1h-1zM340 339h1v1h-1zM345 339h1v1h-1zM395 339h1v1h-1zM400 339h1v1h-1zM405 339h1v1h-1zM410 339h1v1h-1zM415 339h1v1h-1zM420 339h1v1h-1zM425 339h1v1h-1zM430 339h1v1h-1zM485 339h1v1h-1zM490 339h1v1h-1zM495 339h1v1h-1zM500 339h1v1h-1zM505 339h1v1h-1zM510 339h1v1h-1zM515 339h1v1h-1zM520 339h1v1h-1zM570 339h1v1h-1zM575 339h1v1h-1zM605 339h1v1h-1zM610 339h1v1h-1zM615 339h1v1h-1zM620 339h1v1h-1zM665 339h1v1h-1zM670 339h1v1h-1zM675 339h1v1h-1zM680 339h1v1h-1zM685 339h1v1h-1zM690 339h1v1h-1zM695 339h1v1h-1zM700 339h1v1h-1zM750 339h1v1h-1zM755 339h1v1h-1zM760 339h1v1h-1zM765 339h1v1h-1zM770 339h1v1h-1zM775 339h1v1h-1zM780 339h1v1h-1zM785 339h1v1h-1zM835 339h1v1h-1zM840 339h1v1h-1zM845 339h1v1h-1zM850 339h1v1h-1zM855 339h1v1h-1zM860 339h1v1h-1zM865 339h1v1h-1zM870 339h1v1h-1zM920 339h1v1h-1zM925 339h1v1h-1zM930 339h1v1h-1zM935 339h1v1h-1zM940 339h1v1h-1zM945 339h1v1h-1zM950 339h1v1h-1zM955 339h1v1h-1zM50 354h1v1h-1zM55 354h1v1h-1zM60 354h1v1h-1zM65 354h1v1h-1zM70 354h1v1h-1zM75 354h1v1h-1zM80 354h1v1h-1zM85 354h1v1h-1zM135 354h1v1h-1zM140 354h1v1h-1zM145 354h1v1h-1zM150 354h1v1h-1zM155 354h1v1h-1zM160 354h1v1h-1zM165 354h1v1h-1zM170 354h1v1h-1zM175 354h1v1h-1zM225 354h1v1h-1zM230 354h1v1h-1zM235 354h1v1h-1zM240 354h1v1h-1zM245 354h1v1h-1zM250 354h1v1h-1zM255 354h1v1h-1zM260 354h1v1h-1zM310 354h1v1h-1zM315 354h1v1h-1zM320 354h1v1h-1zM325 354h1v1h-1zM330 354h1v1h-1zM335 354h1v1h-1zM340 354h1v1h-1zM345 354h1v1h-1zM395 354h1v1h-1zM400 354h1v1h-1zM405 354h1v1h-1zM410 354h1v1h-1zM415 354h1v1h-1zM420 354h1v1h-1zM425 354h1v1h-1zM430 354h1v1h-1zM485 354h1v1h-1zM490 354h1v1h-1zM495 354h1v1h-1zM500 354h1v1h-1zM505 354h1v1h-1zM510 354h1v1h-1zM515 354h1v1h-1zM520 354h1v1h-1zM570 354h1v1h-1zM575 354h1v1h-1zM605 354h1v1h-1zM610 354h1v1h-1zM615 354h1v1h-1zM620 354h1v1h-1zM665 354h1v1h-1zM670 354h1v1h-1zM675 354h1v1h-1zM680 354h1v1h-1zM685 354h1v1h-1zM690 354h1v1h-1zM695 354h1v1h-1zM700 354h1v1h-1zM750 354h1v1h-1zM755 354h1v1h-1zM760 354h1v1h-1zM765 354h1v1h-1zM770 354h1v1h-1zM775 354h1v1h-1zM780 354h1v1h-1zM785 354h1v1h-1zM835 354h1v1h-1zM840 354h1v1h-1zM845 354h1v1h-1zM850 354h1v1h-1zM855 354h1v1h-1zM860 354h1v1h-1zM865 354h1v1h-1zM870 354h1v1h-1zM920 354h1v1h-1zM925 354h1v1h-1zM930 354h1v1h-1zM935 354h1v1h-1zM940 354h1v1h-1zM945 354h1v1h-1zM950 354h1v1h-1zM955 354h1v1h-1zM50 370h1v1h-1zM55 370h1v1h-1zM60 370h1v1h-1zM65 370h1v1h-1zM70 370h1v1h-1zM75 370h1v1h-1zM80 370h1v1h-1zM85 370h1v1h-1zM135 370h1v1h-1zM140 370h1v1h-1zM145 370h1v1h-1zM150 370h1v1h-1zM155 370h1v1h-1zM160 370h1v1h-1zM165 370h1v1h-1zM170 370h1v1h-1zM175 370h1v1h-1zM225 370h1v1h-1zM230 370h1v1h-1zM235 370h1v1h-1zM240 370h1v1h-1zM245 370h1v1h-1zM250 370h1v1h-1zM255 370h1v1h-1zM260 370h1v1h-1zM310 370h1v1h-1zM315 370h1v1h-1zM320 370h1v1h-1zM325 370h1v1h-1zM330 370h1v1h-1zM335 370h1v1h-1zM340 370h1v1h-1zM345 370h1v1h-1zM395 370h1v1h-1zM400 370h1v1h-1zM405 370h1v1h-1zM410 370h1v1h-1zM415 370h1v1h-1zM420 370h1v1h-1zM425 370h1v1h-1zM430 370h1v1h-1zM485 370h1v1h-1zM490 370h1v1h-1zM495 370h1v1h-1zM500 370h1v1h-1zM505 370h1v1h-1zM510 370h1v1h-1zM515 370h1v1h-1zM520 370h1v1h-1zM570 370h1v1h-1zM575 370h1v1h-1zM605 370h1v1h-1zM610 370h1v1h-1zM615 370h1v1h-1zM620 370h1v1h-1zM665 370h1v1h-1zM670 370h1v1h-1zM675 370h1v1h-1zM680 370h1v1h-1zM685 370h1v1h-1zM690 370h1v1h-1zM695 370h1v1h-1zM700 370h1v1h-1zM750 370h1v1h-1zM755 370h1v1h-1zM760 370h1v1h-1zM765 370h1v1h-1zM770 370h1v1h-1zM775 370h1v1h-1zM780 370h1v1h-1zM785 370h1v1h-1zM835 370h1v1h-1zM840 370h1v1h-1zM845 370h1v1h-1zM850 370h1v1h-1zM855 370h1v1h-1zM860 370h1v1h-1zM865 370h1v1h-1zM870 370h1v1h-1zM920 370h1v1h-1zM925 370h1v1h-1zM930 370h1v1h-1zM935 370h1v1h-1zM940 370h1v1h-1zM945 370h1v1h-1zM950 370h1v1h-1zM955 370h1v1h-1zM50 385h1v1h-1zM55 385h1v1h-1zM60 385h1v1h-1zM65 385h1v1h-1zM70 385h1v1h-1zM75 385h1v1h-1zM80 385h1v1h-1zM85 385h1v1h-1zM135 385h1v1h-1zM140 385h1v1h-1zM145 385h1v1h-1zM150 385h1v1h-1zM155 385h1v1h-1zM160 385h1v1h-1zM165 385h1v1h-1zM170 385h1v1h-1zM175 385h1v1h-1zM225 385h1v1h-1zM230 385h1v1h-1zM235 385h1v1h-1zM240 385h1v1h-1zM245 385h1v1h-1zM250 385h1v1h-1zM255 385h1v1h-1zM260 385h1v1h-1zM310 385h1v1h-1zM315 385h1v1h-1zM320 385h1v1h-1zM325 385h1v1h-1zM330 385h1v1h-1zM335 385h1v1h-1zM340 385h1v1h-1zM345 385h1v1h-1zM395 385h1v1h-1zM400 385h1v1h-1zM405 385h1v1h-1zM410 385h1v1h-1zM415 385h1v1h-1zM420 385h1v1h-1zM425 385h1v1h-1zM430 385h1v1h-1zM485 385h1v1h-1zM490 385h1v1h-1zM495 385h1v1h-1zM500 385h1v1h-1zM505 385h1v1h-1zM510 385h1v1h-1zM515 385h1v1h-1zM520 385h1v1h-1zM570 385h1v1h-1zM575 385h1v1h-1zM605 385h1v1h-1zM610 385h1v1h-1zM615 385h1v1h-1zM620 385h1v1h-1zM665 385h1v1h-1zM670 385h1v1h-1zM675 385h1v1h-1zM680 385h1v1h-1zM685 385h1v1h-1zM690 385h1v1h-1zM695 385h1v1h-1zM700 385h1v1h-1zM750 385h1v1h-1zM755 385h1v1h-1zM760 385h1v1h-1zM765 385h1v1h-1zM770 385h1v1h-1zM775 385h1v1h-1zM780 385h1v1h-1zM785 385h1v1h-1zM835 385h1v1h-1zM840 385h1v1h-1zM845 385h1v1h-1zM850 385h1v1h-1zM855 385h1v1h-1zM860 385h1v1h-1zM865 385h1v1h-1zM870 385h1v1h-1zM920 385h1v1h-1zM925 385h1v1h-1zM930 385h1v1h-1zM935 385h1v1h-1zM940 385h1v1h-1zM945 385h1v1h-1zM950 385h1v1h-1zM955 385h1v1h-1zM50 402h1v1h-1zM55 402h1v1h-1zM60 402h1v1h-1zM65 402h1v1h-1zM70 402h1v1h-1zM75 402h1v1h-1zM80 402h1v1h-1zM85 402h1v1h-1zM135 402h1v1h-1zM140 402h1v1h-1zM145 402h1v1h-1zM150 402h1v1h-1zM155 402h1v1h-1zM160 402h1v1h-1zM165 402h1v1h-1zM170 402h1v1h-1zM175 402h1v1h-1zM225 402h1v1h-1zM230 402h1v1h-1zM235 402h1v1h-1zM240 402h1v1h-1zM245 402h1v1h-1zM250 402h1v1h-1zM255 402h1v1h-1zM260 402h1v1h-1zM310 402h1v1h-1zM315 402h1v1h-1zM320 402h1v1h-1zM325 402h1v1h-1zM330 402h1v1h-1zM335 402h1v1h-1zM340 402h1v1h-1zM345 402h1v1h-1zM395 402h1v1h-1zM400 402h1v1h-1zM405 402h1v1h-1zM410 402h1v1h-1zM415 402h1v1h-1zM420 402h1v1h-1zM425 402h1v1h-1zM430 402h1v1h-1zM485 402h1v1h-1zM490 402h1v1h-1zM495 402h1v1h-1zM500 402h1v1h-1zM505 402h1v1h-1zM510 402h1v1h-1zM515 402h1v1h-1zM520 402h1v1h-1zM570 402h1v1h-1zM575 402h1v1h-1zM605 402h1v1h-1zM610 402h1v1h-1zM615 402h1v1h-1zM620 402h1v1h-1zM665 402h1v1h-1zM670 402h1v1h-1zM675 402h1v1h-1zM680 402h1v1h-1zM685 402h1v1h-1zM690 402h1v1h-1zM695 402h1v1h-1zM700 402h1v1h-1zM750 402h1v1h-1zM755 402h1v1h-1zM760 402h1v1h-1zM765 402h1v1h-1zM770 402h1v1h-1zM775 402h1v1h-1zM780 402h1v1h-1zM785 402h1v1h-1zM835 402h1v1h-1zM840 402h1v1h-1zM845 402h1v1h-1zM850 402h1v1h-1zM855 402h1v1h-1zM860 402h1v1h-1zM865 402h1v1h-1zM870 402h1v1h-1zM920 402h1v1h-1zM925 402h1v1h-1zM930 402h1v1h-1zM935 402h1v1h-1zM940 402h1v1h-1zM945 402h1v1h-1zM950 402h1v1h-1zM955 402h1v1h-1zM50 425h1v1h-1zM55 425h1v1h-1zM60 425h1v1h-1zM65 425h1v1h-1zM70 425h1v1h-1zM75 425h1v1h-1zM80 425h1v1h-1zM85 425h1v1h-1zM135 425h1v1h-1zM140 425h1v1h-1zM145 425h1v1h-1zM150 425h1v1h-1zM155 425h1v1h-1zM160 425h1v1h-1zM165 425h1v1h-1zM170 425h1v1h-1zM175 425h1v1h-1zM225 425h1v1h-1zM230 425h1v1h-1zM235 425h1v1h-1zM240 425h1v1h-1zM245 425h1v1h-1zM250 425h1v1h-1zM255 425h1v1h-1zM260 425h1v1h-1zM310 425h1v1h-1zM315 425h1v1h-1zM320 425h1v1h-1zM325 425h1v1h-1zM330 425h1v1h-1zM335 425h1v1h-1zM340 425h1v1h-1zM345 425h1v1h-1zM395 425h1v1h-1zM400 425h1v1h-1zM405 425h1v1h-1zM410 425h1v1h-1zM415 425h1v1h-1zM420 425h1v1h-1zM425 425h1v1h-1zM430 425h1v1h-1zM485 425h1v1h-1zM490 425h1v1h-1zM495 425h1v1h-1zM500 425h1v1h-1zM505 425h1v1h-1zM510 425h1v1h-1zM515 425h1v1h-1zM520 425h1v1h-1zM570 425h1v1h-1zM575 425h1v1h-1zM605 425h1v1h-1zM610 425h1v1h-1zM615 425h1v1h-1zM620 425h1v1h-1zM665 425h1v1h-1zM670 425h1v1h-1zM675 425h1v1h-1zM680 425h1v1h-1zM685 425h1v1h-1zM690 425h1v1h-1zM695 425h1v1h-1zM700 425h1v1h-1zM750 425h1v1h-1zM755 425h1v1h-1zM760 425h1v1h-1zM765 425h1v1h-1zM770 425h1v1h-1zM775 425h1v1h-1zM780 425h1v1h-1zM785 425h1v1h-1zM835 425h1v1h-1zM840 425h1v1h-1zM845 425h1v1h-1zM850 425h1v1h-1zM855 425h1v1h-1zM860 425h1v1h-1zM865 425h1v1h-1zM870 425h1v1h-1zM920 425h1v1h-1zM925 425h1v1h-1zM930 425h1v1h-1zM935 425h1v1h-1zM940 425h1v1h-1zM945 425h1v1h-1zM950 425h1v1h-1zM955 425h1v1h-1zM50 447h1v1h-1zM55 447h1v1h-1zM60 447h1v1h-1zM65 447h1v1h-1zM70 447h1v1h-1zM75 447h1v1h-1zM80 447h1v1h-1zM85 447h1v1h-1zM135 447h1v1h-1zM140 447h1v1h-1zM145 447h1v1h-1zM150 447h1v1h-1zM155 447h1v1h-1zM160 447h1v1h-1zM165 447h1v1h-1zM170 447h1v1h-1zM175 447h1v1h-1zM225 447h1v1h-1zM230 447h1v1h-1zM235 447h1v1h-1zM240 447h1v1h-1zM245 447h1v1h-1zM250 447h1v1h-1zM255 447h1v1h-1zM260 447h1v1h-1zM310 447h1v1h-1zM315 447h1v1h-1zM320 447h1v1h-1zM325 447h1v1h-1zM330 447h1v1h-1zM335 447h1v1h-1zM340 447h1v1h-1zM345 447h1v1h-1zM395 447h1v1h-1zM400 447h1v1h-1zM405 447h1v1h-1zM410 447h1v1h-1zM415 447h1v1h-1zM420 447h1v1h-1zM425 447h1v1h-1zM430 447h1v1h-1zM485 447h1v1h-1zM490 447h1v1h-1zM495 447h1v1h-1zM500 447h1v1h-1zM505 447h1v1h-1zM510 447h1v1h-1zM515 447h1v1h-1zM520 447h1v1h-1zM570 447h1v1h-1zM575 447h1v1h-1zM605 447h1v1h-1zM610 447h1v1h-1zM615 447h1v1h-1zM620 447h1v1h-1zM665 447h1v1h-1zM670 447h1v1h-1zM675 447h1v1h-1zM680 447h1v1h-1zM685 447h1v1h-1zM690 447h1v1h-1zM695 447h1v1h-1zM700 447h1v1h-1zM750 447h1v1h-1zM755 447h1v1h-1zM760 447h1v1h-1zM765 447h1v1h-1zM770 447h1v1h-1zM775 447h1v1h-1zM780 447h1v1h-1zM785 447h1v1h-1zM835 447h1v1h-1zM840 447h1v1h-1zM845 447h1v1h-1zM850 447h1v1h-1zM855 447h1v1h-1zM860 447h1v1h-1zM865 447h1v1h-1zM870 447h1v1h-1zM920 447h1v1h-1zM925 447h1v1h-1zM930 447h1v1h-1zM935 447h1v1h-1zM940 447h1v1h-1zM945 447h1v1h-1zM950 447h1v1h-1zM955 447h1v1h-1zM50 469h1v1h-1zM55 469h1v1h-1zM60 469h1v1h-1zM65 469h1v1h-1zM70 469h1v1h-1zM75 469h1v1h-1zM80 469h1v1h-1zM85 469h1v1h-1zM135 469h1v1h-1zM140 469h1v1h-1zM145 469h1v1h-1zM150 469h1v1h-1zM155 469h1v1h-1zM160 469h1v1h-1zM165 469h1v1h-1zM170 469h1v1h-1zM175 469h1v1h-1zM225 469h1v1h-1zM230 469h1v1h-1zM235 469h1v1h-1zM240 469h1v1h-1zM245 469h1v1h-1zM250 469h1v1h-1zM255 469h1v1h-1zM260 469h1v1h-1zM310 469h1v1h-1zM315 469h1v1h-1zM320 469h1v1h-1zM325 469h1v1h-1zM330 469h1v1h-1zM335 469h1v1h-1zM340 469h1v1h-1zM345 469h1v1h-1zM395 469h1v1h-1zM400 469h1v1h-1zM405 469h1v1h-1zM410 469h1v1h-1zM415 469h1v1h-1zM420 469h1v1h-1zM425 469h1v1h-1zM430 469h1v1h-1zM485 469h1v1h-1zM490 469h1v1h-1zM495 469h1v1h-1zM500 469h1v1h-1zM505 469h1v1h-1zM510 469h1v1h-1zM515 469h1v1h-1zM520 469h1v1h-1zM570 469h1v1h-1zM575 469h1v1h-1zM605 469h1v1h-1zM610 469h1v1h-1zM615 469h1v1h-1zM620 469h1v1h-1zM665 469h1v1h-1zM670 469h1v1h-1zM675 469h1v1h-1zM680 469h1v1h-1zM685 469h1v1h-1zM690 469h1v1h-1zM695 469h1v1h-1zM700 469h1v1h-1zM750 469h1v1h-1zM755 469h1v1h-1zM760 469h1v1h-1zM765 469h1v1h-1zM770 469h1v1h-1zM775 469h1v1h-1zM780 469h1v1h-1zM785 469h1v1h-1zM835 469h1v1h-1zM840 469h1v1h-1zM845 469h1v1h-1zM850 469h1v1h-1zM855 469h1v1h-1zM860 469h1v1h-1zM865 469h1v1h-1zM870 469h1v1h-1zM920 469h1v1h-1zM925 469h1v1h-1zM930 469h1v1h-1zM935 469h1v1h-1zM940 469h1v1h-1zM945 469h1v1h-1zM950 469h1v1h-1zM955 469h1v1h-1zM50 491h1v1h-1zM55 491h1v1h-1zM60 491h1v1h-1zM65 491h1v1h-1zM70 491h1v1h-1zM75 491h1v1h-1zM80 491h1v1h-1zM85 491h1v1h-1zM135 491h1v1h-1zM140 491h1v1h-1zM145 491h1v1h-1zM150 491h1v1h-1zM155 491h1v1h-1zM160 491h1v1h-1zM165 491h1v1h-1zM170 491h1v1h-1zM175 491h1v1h-1zM225 491h1v1h-1zM230 491h1v1h-1zM235 491h1v1h-1zM240 491h1v1h-1zM245 491h1v1h-1zM250 491h1v1h-1zM255 491h1v1h-1zM260 491h1v1h-1zM310 491h1v1h-1zM315 491h1v1h-1zM320 491h1v1h-1zM325 491h1v1h-1zM330 491h1v1h-1zM335 491h1v1h-1zM340 491h1v1h-1zM345 491h1v1h-1zM395 491h1v1h-1zM400 491h1v1h-1zM405 491h1v1h-1zM410 491h1v1h-1zM415 491h1v1h-1zM420 491h1v1h-1zM425 491h1v1h-1zM430 491h1v1h-1zM485 491h1v1h-1zM490 491h1v1h-1zM495 491h1v1h-1zM500 491h1v1h-1zM505 491h1v1h-1zM510 491h1v1h-1zM515 491h1v1h-1zM520 491h1v1h-1zM570 491h1v1h-1zM575 491h1v1h-1zM605 491h1v1h-1zM610 491h1v1h-1zM615 491h1v1h-1zM620 491h1v1h-1zM665 491h1v1h-1zM670 491h1v1h-1zM675 491h1v1h-1zM680 491h1v1h-1zM685 491h1v1h-1zM690 491h1v1h-1zM695 491h1v1h-1zM700 491h1v1h-1zM750 491h1v1h-1zM755 491h1v1h-1zM760 491h1v1h-1zM765 491h1v1h-1zM770 491h1v1h-1zM775 491h1v1h-1zM780 491h1v1h-1zM785 491h1v1h-1zM835 491h1v1h-1zM840 491h1v1h-1zM845 491h1v1h-1zM850 491h1v1h-1zM855 491h1v1h-1zM860 491h1v1h-1zM865 491h1v1h-1zM870 491h1v1h-1zM920 491h1v1h-1zM925 491h1v1h-1zM930 491h1v1h-1zM935 491h1v1h-1zM940 491h1v1h-1zM945 491h1v1h-1zM950 491h1v1h-1zM955 491h1v1h-1zM50 514h1v1h-1zM55 514h1v1h-1zM60 514h1v1h-1zM65 514h1v1h-1zM70 514h1v1h-1zM75 514h1v1h-1zM80 514h1v1h-1zM85 514h1v1h-1zM135 514h1v1h-1zM140 514h1v1h-1zM145 514h1v1h-1zM150 514h1v1h-1zM155 514h1v1h-1zM160 514h1v1h-1zM165 514h1v1h-1zM170 514h1v1h-1zM175 514h1v1h-1zM225 514h1v1h-1zM230 514h1v1h-1zM235 514h1v1h-1zM240 514h1v1h-1zM245 514h1v1h-1zM250 514h1v1h-1zM255 514h1v1h-1zM260 514h1v1h-1zM310 514h1v1h-1zM315 514h1v1h-1zM320 514h1v1h-1zM325 514h1v1h-1zM330 514h1v1h-1zM335 514h1v1h-1zM340 514h1v1h-1zM345 514h1v1h-1zM395 514h1v1h-1zM400 514h1v1h-1zM405 514h1v1h-1zM410 514h1v1h-1zM415 514h1v1h-1zM420 514h1v1h-1zM425 514h1v1h-1zM430 514h1v1h-1zM485 514h1v1h-1zM490 514h1v1h-1zM495 514h1v1h-1zM500 514h1v1h-1zM505 514h1v1h-1zM510 514h1v1h-1zM515 514h1v1h-1zM520 514h1v1h-1zM570 514h1v1h-1zM575 514h1v1h-1zM605 514h1v1h-1zM610 514h1v1h-1zM615 514h1v1h-1zM620 514h1v1h-1zM665 514h1v1h-1zM670 514h1v1h-1zM675 514h1v1h-1zM680 514h1v1h-1zM685 514h1v1h-1zM690 514h1v1h-1zM695 514h1v1h-1zM700 514h1v1h-1zM750 514h1v1h-1zM755 514h1v1h-1zM760 514h1v1h-1zM765 514h1v1h-1zM770 514h1v1h-1zM775 514h1v1h-1zM780 514h1v1h-1zM785 514h1v1h-1zM835 514h1v1h-1zM840 514h1v1h-1zM845 514h1v1h-1zM850 514h1v1h-1zM855 514h1v1h-1zM860 514h1v1h-1zM865 514h1v1h-1zM870 514h1v1h-1zM920 514h1v1h-1zM925 514h1v1h-1zM930 514h1v1h-1zM935 514h1v1h-1zM940 514h1v1h-1zM945 514h1v1h-1zM950 514h1v1h-1zM955 514h1v1h-1zM50 591h1v1h-1zM55 591h1v1h-1zM60 591h1v1h-1zM65 591h1v1h-1zM70 591h1v1h-1zM75 591h1v1h-1zM80 591h1v1h-1zM85 591h1v1h-1zM135 591h1v1h-1zM140 591h1v1h-1zM145 591h1v1h-1zM150 591h1v1h-1zM155 591h1v1h-1zM160 591h1v1h-1zM165 591h1v1h-1zM170 591h1v1h-1zM175 591h1v1h-1zM225 591h1v1h-1zM230 591h1v1h-1zM235 591h1v1h-1zM240 591h1v1h-1zM245 591h1v1h-1zM250 591h1v1h-1zM255 591h1v1h-1zM260 591h1v1h-1zM310 591h1v1h-1zM315 591h1v1h-1zM320 591h1v1h-1zM325 591h1v1h-1zM330 591h1v1h-1zM335 591h1v1h-1zM340 591h1v1h-1zM345 591h1v1h-1zM395 591h1v1h-1zM400 591h1v1h-1zM405 591h1v1h-1zM410 591h1v1h-1zM415 591h1v1h-1zM420 591h1v1h-1zM425 591h1v1h-1zM430 591h1v1h-1zM485 591h1v1h-1zM490 591h1v1h-1zM495 591h1v1h-1zM500 591h1v1h-1zM505 591h1v1h-1zM510 591h1v1h-1zM515 591h1v1h-1zM520 591h1v1h-1zM570 591h1v1h-1zM575 591h1v1h-1zM605 591h1v1h-1zM610 591h1v1h-1zM615 591h1v1h-1zM620 591h1v1h-1zM665 591h1v1h-1zM670 591h1v1h-1zM675 591h1v1h-1zM680 591h1v1h-1zM685 591h1v1h-1zM690 591h1v1h-1zM695 591h1v1h-1zM700 591h1v1h-1zM750 591h1v1h-1zM755 591h1v1h-1zM760 591h1v1h-1zM765 591h1v1h-1zM770 591h1v1h-1zM775 591h1v1h-1zM780 591h1v1h-1zM785 591h1v1h-1zM835 591h1v1h-1zM840 591h1v1h-1zM845 591h1v1h-1zM850 591h1v1h-1zM855 591h1v1h-1zM860 591h1v1h-1zM865 591h1v1h-1zM870 591h1v1h-1zM920 591h1v1h-1zM925 591h1v1h-1zM930 591h1v1h-1zM935 591h1v1h-1zM940 591h1v1h-1zM945 591h1v1h-1zM950 591h1v1h-1zM955 591h1v1h-1zM50 609h1v1h-1zM55 609h1v1h-1zM60 609h1v1h-1zM65 609h1v1h-1zM70 609h1v1h-1zM75 609h1v1h-1zM80 609h1v1h-1zM85 609h1v1h-1zM135 609h1v1h-1zM140 609h1v1h-1zM145 609h1v1h-1zM150 609h1v1h-1zM155 609h1v1h-1zM160 609h1v1h-1zM165 609h1v1h-1zM170 609h1v1h-1zM175 609h1v1h-1zM225 609h1v1h-1zM230 609h1v1h-1zM235 609h1v1h-1zM240 609h1v1h-1zM245 609h1v1h-1zM250 609h1v1h-1zM255 609h1v1h-1zM260 609h1v1h-1zM310 609h1v1h-1zM315 609h1v1h-1zM320 609h1v1h-1zM325 609h1v1h-1zM330 609h1v1h-1zM335 609h1v1h-1zM340 609h1v1h-1zM345 609h1v1h-1zM395 609h1v1h-1zM400 609h1v1h-1zM405 609h1v1h-1zM410 609h1v1h-1zM415 609h1v1h-1zM420 609h1v1h-1zM425 609h1v1h-1zM430 609h1v1h-1zM485 609h1v1h-1zM490 609h1v1h-1zM495 609h1v1h-1zM500 609h1v1h-1zM505 609h1v1h-1zM510 609h1v1h-1zM515 609h1v1h-1zM520 609h1v1h-1zM570 609h1v1h-1zM575 609h1v1h-1zM605 609h1v1h-1zM610 609h1v1h-1zM615 609h1v1h-1zM620 609h1v1h-1zM665 609h1v1h-1zM670 609h1v1h-1zM675 609h1v1h-1zM680 609h1v1h-1zM685 609h1v1h-1zM690 609h1v1h-1zM695 609h1v1h-1zM700 609h1v1h-1zM750 609h1v1h-1zM755 609h1v1h-1zM760 609h1v1h-1zM765 609h1v1h-1zM770 609h1v1h-1zM775 609h1v1h-1zM780 609h1v1h-1zM785 609h1v1h-1zM835 609h1v1h-1zM840 609h1v1h-1zM845 609h1v1h-1zM850 609h1v1h-1zM855 609h1v1h-1zM860 609h1v1h-1zM865 609h1v1h-1zM870 609h1v1h-1zM920 609h1v1h-1zM925 609h1v1h-1zM930 609h1v1h-1zM935 609h1v1h-1zM940 609h1v1h-1zM945 609h1v1h-1zM950 609h1v1h-1zM955 609h1v1h-1zM50 627h1v1h-1zM55 627h1v1h-1zM60 627h1v1h-1zM65 627h1v1h-1zM70 627h1v1h-1zM75 627h1v1h-1zM80 627h1v1h-1zM85 627h1v1h-1zM135 627h1v1h-1zM140 627h1v1h-1zM145 627h1v1h-1zM150 627h1v1h-1zM155 627h1v1h-1zM160 627h1v1h-1zM165 627h1v1h-1zM170 627h1v1h-1zM175 627h1v1h-1zM225 627h1v1h-1zM230 627h1v1h-1zM235 627h1v1h-1zM240 627h1v1h-1zM245 627h1v1h-1zM250 627h1v1h-1zM255 627h1v1h-1zM260 627h1v1h-1zM310 627h1v1h-1zM315 627h1v1h-1zM320 627h1v1h-1zM325 627h1v1h-1zM330 627h1v1h-1zM335 627h1v1h-1zM340 627h1v1h-1zM345 627h1v1h-1zM395 627h1v1h-1zM400 627h1v1h-1zM405 627h1v1h-1zM410 627h1v1h-1zM415 627h1v1h-1zM420 627h1v1h-1zM425 627h1v1h-1zM430 627h1v1h-1zM485 627h1v1h-1zM490 627h1v1h-1zM495 627h1v1h-1zM500 627h1v1h-1zM505 627h1v1h-1zM510 627h1v1h-1zM515 627h1v1h-1zM520 627h1v1h-1zM570 627h1v1h-1zM575 627h1v1h-1zM605 627h1v1h-1zM610 627h1v1h-1zM615 627h1v1h-1zM620 627h1v1h-1zM665 627h1v1h-1zM670 627h1v1h-1zM675 627h1v1h-1zM680 627h1v1h-1zM685 627h1v1h-1zM690 627h1v1h-1zM695 627h1v1h-1zM700 627h1v1h-1zM750 627h1v1h-1zM755 627h1v1h-1zM760 627h1v1h-1zM765 627h1v1h-1zM770 627h1v1h-1zM775 627h1v1h-1zM780 627h1v1h-1zM785 627h1v1h-1zM835 627h1v1h-1zM840 627h1v1h-1zM845 627h1v1h-1zM850 627h1v1h-1zM855 627h1v1h-1zM860 627h1v1h-1zM865 627h1v1h-1zM870 627h1v1h-1zM920 627h1v1h-1zM925 627h1v1h-1zM930 627h1v1h-1zM935 627h1v1h-1zM940 627h1v1h-1zM945 627h1v1h-1zM950 627h1v1h-1zM955 627h1v1h-1zM50 645h1v1h-1zM55 645h1v1h-1zM60 645h1v1h-1zM65 645h1v1h-1zM70 645h1v1h-1zM75 645h1v1h-1zM80 645h1v1h-1zM85 645h1v1h-1zM135 645h1v1h-1zM140 645h1v1h-1zM145 645h1v1h-1zM150 645h1v1h-1zM155 645h1v1h-1zM160 645h1v1h-1zM165 645h1v1h-1zM170 645h1v1h-1zM175 645h1v1h-1zM225 645h1v1h-1zM230 645h1v1h-1zM235 645h1v1h-1zM240 645h1v1h-1zM245 645h1v1h-1zM250 645h1v1h-1zM255 645h1v1h-1zM260 645h1v1h-1zM310 645h1v1h-1zM315 645h1v1h-1zM320 645h1v1h-1zM325 645h1v1h-1zM330 645h1v1h-1zM335 645h1v1h-1zM340 645h1v1h-1zM345 645h1v1h-1zM395 645h1v1h-1zM400 645h1v1h-1zM405 645h1v1h-1zM410 645h1v1h-1zM415 645h1v1h-1zM420 645h1v1h-1zM425 645h1v1h-1zM430 645h1v1h-1zM485 645h1v1h-1zM490 645h1v1h-1zM495 645h1v1h-1zM500 645h1v1h-1zM505 645h1v1h-1zM510 645h1v1h-1zM515 645h1v1h-1zM520 645h1v1h-1zM570 645h1v1h-1zM575 645h1v1h-1zM605 645h1v1h-1zM610 645h1v1h-1zM615 645h1v1h-1zM620 645h1v1h-1zM665 645h1v1h-1zM670 645h1v1h-1zM675 645h1v1h-1zM680 645h1v1h-1zM685 645h1v1h-1zM690 645h1v1h-1zM695 645h1v1h-1zM700 645h1v1h-1zM750 645h1v1h-1zM755 645h1v1h-1zM760 645h1v1h-1zM765 645h1v1h-1zM770 645h1v1h-1zM775 645h1v1h-1zM780 645h1v1h-1zM785 645h1v1h-1zM835 645h1v1h-1zM840 645h1v1h-1zM845 645h1v1h-1zM850 645h1v1h-1zM855 645h1v1h-1zM860 645h1v1h-1zM865 645h1v1h-1zM870 645h1v1h-1zM920 645h1v1h-1zM925 645h1v1h-1zM930 645h1v1h-1zM935 645h1v1h-1zM940 645h1v1h-1zM945 645h1v1h-1zM950 645h1v1h-1zM955 645h1v1h-1z" fill="#c0c0c0"/>
<rect x="1" y="255" width="965" height="1" fill="#ff0000"/>
<rect x="1" y="342" width="965" height="1" fill="#ff0000"/>
<g shape-rendering="crispEdges"><rect x="4" y="61" width="1" height="17" fill="#000"/><rect x="2" y="72" width="5" height="5" fill="#000"/><rect x="3" y="73" width="3" height="3" fill="#0000ff"/><rect x="11" y="68" width="1" height="17" fill="#000"/><rect x="9" y="71" width="5" height="11" fill="#000"/><rect x="10" y="72" width="3" height="9" fill="#ff0000"/><rect x="18" y="70" width="1" height="15" fill="#000"/><rect x="16" y="78" width="5" height="3" fill="#000"/><rect x="17" y="79" width="3" height="1" fill="#0000ff"/><rect x="25" y="58" width="1" height="123" fill="#000"/><rect x="23" y="79" width="5" height="87" fill="#000"/><rect x="24" y="80" width="3" height="85" fill="#ff0000"/><rect x="33" y="161" width="1" height="30" fill="#000"/><rect x="31" y="163" width="5" height="3" fill="#000"/><rect x="32" y="164" width="3" height="1" fill="#0000ff"/><rect x="40" y="161" width="1" height="17" fill="#000"/><rect x="38" y="162" width="5" height="2" fill="#000"/><rect x="47" y="163" width="1" height="22" fill="#000"/><rect x="45" y="163" width="5" height="2" fill="#000"/><rect x="54" y="164" width="1" height="14" fill="#000"/><rect x="52" y="167" width="5" height="7" fill="#000"/><rect x="53" y="168" width="3" height="5" fill="#ff0000"/><rect x="61" y="166" width="1" height="11" fill="#000"/><rect x="59" y="168" width="5" height="3" fill="#000"/><rect x="60" y="169" width="3" height="1" fill="#0000ff"/><rect x="69" y="163" width="1" height="9" fill="#000"/><rect x="67" y="167" width="5" height="3" fill="#000"/><rect x="68" y="168" width="3" height="1" fill="#0000ff"/><rect x="76" y="164" width="1" height="11" fill="#000"/><rect x="74" y="166" width="5" height="4" fill="#000"/><rect x="75" y="167" width="3" height="2" fill="#ff0000"/><rect x="83" y="164" width="1" height="10" fill="#000"/><rect x="81" y="168" width="5" height="2" fill="#000"/><rect x="90" y="165" width="1" height="11" fill="#000"/><rect x="88" y="167" width="5" height="2" fill="#000"/><rect x="97" y="165" width="1" height="10" fill="#000"/><rect x="95" y="167" width="5" height="5" fill="#000"/><rect x="96" y="168" width="3" height="3" fill="#ff0000"/><rect x="105" y="165" width="1" height="22" fill="#000"/><rect x="103" y="171" width="5" height="6" fill="#000"/><rect x="104" y="172" width="3" height="4" fill="#ff0000"/><rect x="112" y="162" width="1" height="16" fill="#000"/><rect x="110" y="171" width="5" height="5" fill="#000"/><rect x="111" y="172" width="3" height="3" fill="#0000ff"/><rect x="119" y="166" width="1" height="15" fill="#000"/><rect x="117" y="171" width="5" height="6" fill="#000"/><rect x="118" y="172" width="3" height="4" fill="#ff0000"/><rect x="126" y="173" width="1" height="45" fill="#000"/><rect x="124" y="176" width="5" height="37" fill="#000"/><rect x="125" y="177" width="3" height="35" fill="#ff0000"/><rect x="133" y="187" width="1" height="27" fill="#000"/><rect x="131" y="192" width="5" height="22" fill="#000"/><rect x="132" y="193" width="3" height="20" fill="#0000ff"/><rect x="141" y="184" width="1" height="23" fill="#000"/><rect x="139" y="192" width="5" height="6" fill="#000"/><rect x="140" y="193" width="3" height="4" fill="#ff0000"/><rect x="148" y="191" width="1" height="20" fill="#000"/><rect x="146" y="197" width="5" height="2" fill="#000"/><rect x="155" y="190" width="1" height="56" fill="#000"/><rect x="153" y="198" width="5" height="17" fill="#000"/><rect x="154" y="199" width="3" height="15" fill="#ff0000"/><rect x="162" y="195" width="1" height="25" fill="#000"/><rect x="160" y="211" width="5" height="6" fill="#000"/><rect x="161" y="212" width="3" height="4" fill="#0000ff"/><rect x="169" y="202" width="1" height="25" fill="#000"/><rect x="167" y="209" width="5" height="10" fill="#000"/><rect x="168" y="210" width="3" height="8" fill="#ff0000"/><rect x="177" y="215" width="1" height="24" fill="#000"/><rect x="175" y="220" width="5" height="9" fill="#000"/><rect x="176" y="221" width="3" height="7" fill="#ff0000"/><rect x="184" y="225" width="1" height="33" fill="#000"/><rect x="182" y="228" width="5" height="11" fill="#000"/><rect x="183" y="229" width="3" height="9" fill="#ff0000"/><rect x="191" y="230" width="1" height="21" fill="#000"/><rect x="189" y="236" width="5" height="9" fill="#000"/><rect x="190" y="237" width="3" height="7" fill="#ff0000"/><rect x="198" y="243" width="1" height="19" fill="#000"/><rect x="196" y="243" width="5" height="6" fill="#000"/><rect x="197" y="244" width="3" height="4" fill="#ff0000"/><rect x="205" y="246" width="1" height="10" fill="#000"/><rect x="203" y="247" width="5" height="4" fill="#000"/><rect x="204" y="248" width="3" height="2" fill="#ff0000"/><rect x="213" y="234" width="1" height="17" fill="#000"/><rect x="211" y="242" width="5" height="9" fill="#000"/><rect x="212" y="243" width="3" height="7" fill="#0000ff"/><rect x="220" y="232" width="1" height="11" fill="#000"/><rect x="218" y="238" width="5" height="4" fill="#000"/><rect x="219" y="239" width="3" height="2" fill="#0000ff"/><rect x="227" y="232" width="1" height="11" fill="#000"/><rect x="225" y="237" width="5" height="4" fill="#000"/><rect x="226" y="238" width="3" height="2" fill="#0000ff"/><rect x="234" y="236" width="1" height="20" fill="#000"/><rect x="232" y="237" width="5" height="16" fill="#000"/><rect x="233" y="238" width="3" height="14" fill="#ff0000"/><rect x="241" y="242" width="1" height="16" fill="#000"/><rect x="239" y="245" width="5" height="4" fill="#000"/><rect x="240" y="246" width="3" height="2" fill="#0000ff"/><rect x="249" y="235" width="1" height="15" fill="#000"/><rect x="247" y="240" width="5" height="9" fill="#000"/><rect x="248" y="241" width="3" height="7" fill="#0000ff"/><rect x="256" y="232" width="1" height="13" fill="#000"/><rect x="254" y="237" width="5" height="2" fill="#000"/><rect x="263" y="233" width="1" height="12" fill="#000"/><rect x="261" y="237" width="5" height="3" fill="#000"/><rect x="262" y="238" width="3" height="1" fill="#0000ff"/><rect x="270" y="233" width="1" height="12" fill="#000"/><rect x="268" y="237" width="5" height="2" fill="#000"/><rect x="277" y="221" width="1" height="21" fill="#000"/><rect x="275" y="227" width="5" height="9" fill="#000"/><rect x="276" y="228" width="3" height="7" fill="#0000ff"/><rect x="285" y="217" width="1" height="20" fill="#000"/><rect x="283" y="224" width="5" height="4" fill="#000"/><rect x="284" y="225" width="3" height="2" fill="#ff0000"/><rect x="292" y="212" width="1" height="19" fill="#000"/><rect x="290" y="216" width="5" height="13" fill="#000"/><rect x="291" y="217" width="3" height="11" fill="#0000ff"/><rect x="299" y="204" width="1" height="37" fill="#000"/><rect x="297" y="218" width="5" height="12" fill="#000"/><rect x="298" y="219" width="3" height="10" fill="#ff0000"/><rect x="306" y="229" width="1" height="25" fill="#000"/><rect x="304" y="229" width="5" height="15" fill="#000"/><rect x="305" y="230" width="3" height="13" fill="#ff0000"/><rect x="313" y="236" width="1" height="13" fill="#000"/><rect x="311" y="243" width="5" height="4" fill="#000"/><rect x="312" y="244" width="3" height="2" fill="#ff0000"/><rect x="321" y="227" width="1" height="22" fill="#000"/><rect x="319" y="239" width="5" height="10" fill="#000"/><rect x="320" y="240" width="3" height="8" fill="#0000ff"/><rect x="328" y="224" width="1" height="29" fill="#000"/><rect x="326" y="237" width="5" height="4" fill="#000"/><rect x="327" y="238" width="3" height="2" fill="#0000ff"/><rect x="335" y="227" width="1" height="22" fill="#000"/><rect x="333" y="236" width="5" height="3" fill="#000"/><rect x="334" y="237" width="3" height="1" fill="#ff0000"/><rect x="342" y="235" width="1" height="32" fill="#000"/><rect x="340" y="238" width="5" height="18" fill="#000"/><rect x="341" y="239" width="3" height="16" fill="#ff0000"/><rect x="349" y="243" width="1" height="26" fill="#000"/><rect x="347" y="254" width="5" height="11" fill="#000"/><rect x="348" y="255" width="3" height="9" fill="#ff0000"/><rect x="357" y="253" width="1" height="21" fill="#000"/><rect x="355" y="263" width="5" height="2" fill="#000"/><rect x="364" y="263" width="1" height="18" fill="#000"/><rect x="362" y="266" width="5" height="8" fill="#000"/><rect x="363" y="267" width="3" height="6" fill="#ff0000"/><rect x="371" y="269" width="1" height="12" fill="#000"/><rect x="369" y="274" width="5" height="4" fill="#000"/><rect x="370" y="275" width="3" height="2" fill="#ff0000"/><rect x="378" y="273" width="1" height="12" fill="#000"/><rect x="376" y="275" width="5" height="2" fill="#000"/><rect x="385" y="272" width="1" height="9" fill="#000"/><rect x="383" y="276" width="5" height="2" fill="#000"/><rect x="393" y="270" width="1" height="8" fill="#000"/><rect x="391" y="275" width="5" height="2" fill="#000"/><rect x="400" y="275" width="1" height="12" fill="#000"/><rect x="398" y="276" width="5" height="9" fill="#000"/><rect x="399" y="277" width="3" height="7" fill="#ff0000"/><rect x="407" y="273" width="1" height="13" fill="#000"/><rect x="405" y="284" width="5" height="3" fill="#000"/><rect x="406" y="285" width="3" height="1" fill="#0000ff"/><rect x="414" y="273" width="1" height="12" fill="#000"/><rect x="412" y="276" width="5" height="9" fill="#000"/><rect x="413" y="277" width="3" height="7" fill="#0000ff"/><rect x="421" y="270" width="1" height="11" fill="#000"/><rect x="419" y="276" width="5" height="2" fill="#000"/><rect x="429" y="272" width="1" height="9" fill="#000"/><rect x="427" y="272" width="5" height="2" fill="#000"/><rect x="436" y="268" width="1" height="10" fill="#000"/><rect x="434" y="272" width="5" height="2" fill="#000"/><rect x="443" y="269" width="1" height="10" fill="#000"/><rect x="441" y="272" width="5" height="2" fill="#000"/><rect x="450" y="268" width="1" height="10" fill="#000"/><rect x="448" y="271" width="5" height="2" fill="#000"/><rect x="457" y="260" width="1" height="17" fill="#000"/><rect x="455" y="264" width="5" height="9" fill="#000"/><rect x="456" y="265" width="3" height="7" fill="#0000ff"/><rect x="465" y="253" width="1" height="16" fill="#000"/><rect x="463" y="256" width="5" height="8" fill="#000"/><rect x="464" y="257" width="3" height="6" fill="#0000ff"/><rect x="472" y="251" width="1" height="10" fill="#000"/><rect x="470" y="256" width="5" height="3" fill="#000"/><rect x="471" y="257" width="3" height="1" fill="#ff0000"/><rect x="479" y="253" width="1" height="20" fill="#000"/><rect x="477" y="256" width="5" height="11" fill="#000"/><rect x="478" y="257" width="3" height="9" fill="#ff0000"/><rect x="486" y="261" width="1" height="12" fill="#000"/><rect x="484" y="265" width="5" height="2" fill="#000"/><rect x="493" y="258" width="1" height="11" fill="#000"/><rect x="491" y="263" width="5" height="2" fill="#000"/><rect x="501" y="260" width="1" height="19" fill="#000"/><rect x="499" y="264" width="5" height="13" fill="#000"/><rect x="500" y="265" width="3" height="11" fill="#ff0000"/><rect x="508" y="262" width="1" height="15" fill="#000"/><rect x="506" y="267" width="5" height="10" fill="#000"/><rect x="507" y="268" width="3" height="8" fill="#0000ff"/><rect x="515" y="259" width="1" height="14" fill="#000"/><rect x="513" y="266" width="5" height="5" fill="#000"/><rect x="514" y="267" width="3" height="3" fill="#ff0000"/><rect x="522" y="263" width="1" height="10" fill="#000"/><rect x="520" y="267" width="5" height="5" fill="#000"/><rect x="521" y="268" width="3" height="3" fill="#0000ff"/><rect x="529" y="264" width="1" height="7" fill="#000"/><rect x="527" y="266" width="5" height="2" fill="#000"/><rect x="537" y="261" width="1" height="13" fill="#000"/><rect x="535" y="265" width="5" height="2" fill="#000"/><rect x="544" y="260" width="1" height="9" fill="#000"/><rect x="542" y="264" width="5" height="3" fill="#000"/><rect x="543" y="265" width="3" height="1" fill="#0000ff"/><rect x="551" y="260" width="1" height="5" fill="#000"/><rect x="549" y="261" width="5" height="2" fill="#000"/><rect x="558" y="260" width="1" height="5" fill="#000"/><rect x="556" y="261" width="5" height="3" fill="#000"/><rect x="557" y="262" width="3" height="1" fill="#0000ff"/><rect x="565" y="261" width="1" height="5" fill="#000"/><rect x="563" y="264" width="5" height="3" fill="#000"/><rect x="564" y="265" width="3" height="1" fill="#ff0000"/><rect x="571" y="262" width="5" height="1" fill="#000"/><rect x="578" y="276" width="5" height="1" fill="#000"/><rect x="585" y="263" width="5" height="1" fill="#000"/><rect x="592" y="276" width="5" height="1" fill="#000"/><rect x="599" y="276" width="5" height="1" fill="#000"/><rect x="607" y="273" width="5" height="1" fill="#000"/><rect x="614" y="276" width="5" height="1" fill="#000"/><rect x="621" y="263" width="5" height="1" fill="#000"/><rect x="628" y="264" width="5" height="1" fill="#000"/><rect x="637" y="262" width="1" height="9" fill="#000"/><rect x="635" y="264" width="5" height="4" fill="#000"/><rect x="636" y="265" width="3" height="2" fill="#ff0000"/><rect x="645" y="264" width="1" height="6" fill="#000"/><rect x="643" y="267" width="5" height="3" fill="#000"/><rect x="644" y="268" width="3" height="1" fill="#ff0000"/><rect x="652" y="256" width="1" height="10" fill="#000"/><rect x="650" y="260" width="5" height="5" fill="#000"/><rect x="651" y="261" width="3" height="3" fill="#0000ff"/><rect x="659" y="257" width="1" height="6" fill="#000"/><rect x="657" y="259" width="5" height="3" fill="#000"/><rect x="658" y="260" width="3" height="1" fill="#ff0000"/><rect x="666" y="258" width="1" height="8" fill="#000"/><rect x="664" y="259" width="5" height="6" fill="#000"/><rect x="665" y="260" width="3" height="4" fill="#ff0000"/><rect x="673" y="263" width="1" height="6" fill="#000"/><rect x="671" y="265" width="5" height="2" fill="#000"/><rect x="681" y="261" width="1" height="27" fill="#000"/><rect x="679" y="264" width="5" height="20" fill="#000"/><rect x="680" y="265" width="3" height="18" fill="#ff0000"/><rect x="688" y="284" width="1" height="32" fill="#000"/><rect x="686" y="284" width="5" height="28" fill="#000"/><rect x="687" y="285" width="3" height="26" fill="#ff0000"/><rect x="695" y="306" width="1" height="13" fill="#000"/><rect x="693" y="308" width="5" height="5" fill="#000"/><rect x="694" y="309" width="3" height="3" fill="#0000ff"/><rect x="702" y="286" width="1" height="25" fill="#000"/><rect x="700" y="298" width="5" height="13" fill="#000"/><rect x="701" y="299" width="3" height="11" fill="#0000ff"/><rect x="709" y="294" width="1" height="13" fill="#000"/><rect x="707" y="297" width="5" height="4" fill="#000"/><rect x="708" y="298" width="3" height="2" fill="#ff0000"/><rect x="717" y="292" width="1" height="12" fill="#000"/><rect x="715" y="297" width="5" height="6" fill="#000"/><rect x="716" y="298" width="3" height="4" fill="#0000ff"/><rect x="724" y="294" width="1" height="16" fill="#000"/><rect x="722" y="296" width="5" height="5" fill="#000"/><rect x="723" y="297" width="3" height="3" fill="#ff0000"/><rect x="731" y="296" width="1" height="13" fill="#000"/><rect x="729" y="299" width="5" height="2" fill="#000"/><rect x="738" y="289" width="1" height="16" fill="#000"/><rect x="736" y="296" width="5" height="6" fill="#000"/><rect x="737" y="297" width="3" height="4" fill="#0000ff"/><rect x="745" y="283" width="1" height="17" fill="#000"/><rect x="743" y="289" width="5" height="6" fill="#000"/><rect x="744" y="290" width="3" height="4" fill="#0000ff"/><rect x="753" y="287" width="1" height="14" fill="#000"/><rect x="751" y="289" width="5" height="2" fill="#000"/><rect x="760" y="279" width="1" height="14" fill="#000"/><rect x="758" y="287" width="5" height="6" fill="#000"/><rect x="759" y="288" width="3" height="4" fill="#0000ff"/><rect x="767" y="279" width="1" height="12" fill="#000"/><rect x="765" y="283" width="5" height="5" fill="#000"/><rect x="766" y="284" width="3" height="3" fill="#0000ff"/><rect x="774" y="278" width="1" height="57" fill="#000"/><rect x="772" y="281" width="5" height="46" fill="#000"/><rect x="773" y="282" width="3" height="44" fill="#ff0000"/><rect x="781" y="311" width="1" height="20" fill="#000"/><rect x="779" y="323" width="5" height="3" fill="#000"/><rect x="780" y="324" width="3" height="1" fill="#ff0000"/><rect x="789" y="315" width="1" height="27" fill="#000"/><rect x="787" y="326" width="5" height="7" fill="#000"/><rect x="788" y="327" width="3" height="5" fill="#ff0000"/><rect x="796" y="317" width="1" height="25" fill="#000"/><rect x="794" y="324" width="5" height="9" fill="#000"/><rect x="795" y="325" width="3" height="7" fill="#0000ff"/><rect x="803" y="317" width="1" height="18" fill="#000"/><rect x="801" y="320" width="5" height="6" fill="#000"/><rect x="802" y="321" width="3" height="4" fill="#0000ff"/><rect x="810" y="316" width="1" height="17" fill="#000"/><rect x="808" y="322" width="5" height="9" fill="#000"/><rect x="809" y="323" width="3" height="7" fill="#ff0000"/><rect x="817" y="317" width="1" height="15" fill="#000"/><rect x="815" y="326" width="5" height="5" fill="#000"/><rect x="816" y="327" width="3" height="3" fill="#0000ff"/><rect x="825" y="312" width="1" height="15" fill="#000"/><rect x="823" y="318" width="5" height="9" fill="#000"/><rect x="824" y="319" width="3" height="7" fill="#0000ff"/><rect x="832" y="306" width="1" height="14" fill="#000"/><rect x="830" y="309" width="5" height="7" fill="#000"/><rect x="831" y="310" width="3" height="5" fill="#0000ff"/><rect x="839" y="307" width="1" height="12" fill="#000"/><rect x="837" y="311" width="5" height="2" fill="#000"/><rect x="846" y="311" width="1" height="16" fill="#000"/><rect x="844" y="314" width="5" height="5" fill="#000"/><rect x="845" y="315" width="3" height="3" fill="#ff0000"/><rect x="853" y="289" width="1" height="34" fill="#000"/><rect x="851" y="296" width="5" height="25" fill="#000"/><rect x="852" y="297" width="3" height="23" fill="#0000ff"/><rect x="861" y="283" width="1" height="17" fill="#000"/><rect x="859" y="290" width="5" height="7" fill="#000"/><rect x="860" y="291" width="3" height="5" fill="#0000ff"/><rect x="868" y="273" width="1" height="25" fill="#000"/><rect x="866" y="277" width="5" height="14" fill="#000"/><rect x="867" y="278" width="3" height="12" fill="#0000ff"/><rect x="875" y="265" width="1" height="18" fill="#000"/><rect x="873" y="277" width="5" height="2" fill="#000"/><rect x="882" y="274" width="1" height="11" fill="#000"/><rect x="880" y="278" width="5" height="2" fill="#000"/><rect x="889" y="277" width="1" height="17" fill="#000"/><rect x="887" y="277" width="5" height="14" fill="#000"/><rect x="888" y="278" width="3" height="12" fill="#ff0000"/><rect x="897" y="268" width="1" height="28" fill="#000"/><rect x="895" y="271" width="5" height="20" fill="#000"/><rect x="896" y="272" width="3" height="18" fill="#0000ff"/><rect x="904" y="263" width="1" height="28" fill="#000"/><rect x="902" y="271" width="5" height="20" fill="#000"/><rect x="903" y="272" width="3" height="18" fill="#ff0000"/><rect x="911" y="278" width="1" height="15" fill="#000"/><rect x="909" y="279" width="5" height="9" fill="#000"/><rect x="910" y="280" width="3" height="7" fill="#0000ff"/><rect x="918" y="270" width="1" height="14" fill="#000"/><rect x="916" y="277" width="5" height="2" fill="#000"/><rect x="925" y="273" width="1" height="15" fill="#000"/><rect x="923" y="277" width="5" height="11" fill="#000"/><rect x="924" y="278" width="3" height="9" fill="#ff0000"/><rect x="933" y="280" width="1" height="21" fill="#000"/><rect x="931" y="286" width="5" height="2" fill="#000"/><rect x="940" y="274" width="1" height="27" fill="#000"/><rect x="938" y="286" width="5" height="2" fill="#000"/><rect x="947" y="279" width="1" height="23" fill="#000"/><rect x="945" y="289" width="5" height="10" fill="#000"/><rect x="946" y="290" width="3" height="8" fill="#ff0000"/><rect x="954" y="293" width="1" height="20" fill="#000"/><rect x="952" y="295" width="5" height="5" fill="#000"/><rect x="953" y="296" width="3" height="3" fill="#0000ff"/><rect x="961" y="289" width="1" height="14" fill="#000"/><rect x="959" y="293" width="5" height="5" fill="#000"/><rect x="960" y="294" width="3" height="3" fill="#0000ff"/></g>
<polyline points="4,87 18.4,87 23.4,93.75 27.3,98.4 36.7,107 45.3,114 55.5,124.2 62.5,128.9 70.3,132.8 76.6,136.7 85.2,140.6 93.75,143.75 109.4,148.4 118.75,152.3 126.6,158.6 136,160 148.4,165 160,172.8 174.2,180 177.3,183.1 189,191 204.7,201.9 218.75,208.1 231.25,214.4 237.5,216.7 251.6,219.8 262.5,223.4 275,223.75 298.4,223.75 310,226.9 314,228.4 334.4,229.7 346.9,236.25 356.25,239.4 367.2,246.1 379.7,253.9 393.75,257 409.4,261.7 421.9,263.3 443.75,265.6 460,265.6 609,266.25 610,267.2 623,267.2 624,266 673,266 679.4,266.7 687.2,268.3 695,271 702.8,272.2 716.9,272.2 720,274 752.8,273.6 753,274.7 766.9,274.7 774.7,276 782.5,278.3 788.75,278.3 796.6,281 809,281 813.75,284 818.4,285.6 832.5,285.6 840.3,287.65 962.7,287.65" fill="none" stroke="#ff0000" stroke-width="2" stroke-linejoin="round" shape-rendering="crispEdges"/>
<rect x="673.5" y="253.5" width="15" height="31" fill="none" stroke="#000" stroke-width="1"/>
<rect x="1" y="436" width="965" height="1" fill="#0000ff"/>
<rect x="1" y="458" width="965" height="1" fill="#0000ff"/>
<rect x="1" y="479" width="965" height="1" fill="#0000ff"/>
<line x1="1" y1="474.6" x2="673.5" y2="505.9" stroke="#ff0000" stroke-width="2" shape-rendering="crispEdges"/>
<polyline points="4.3,420.5 12.1,420.5 18.55,437.1 25.4,437.1 32.2,504.5 34.2,505.5 44.9,507.4 54.7,507.4 60.9,510.9 69.3,467.4 75.8,502.5 83.6,502.5 90.2,474.6 95.7,476.6 105.5,476.2 109.4,478.1 119.5,479.1 132.8,493 140.6,490.2 148.4,493 156.25,493 162.1,481.6 168,480.5 177.7,479.1 185.5,486 192.4,488.9 197.8,488.9 205.2,491.8 213.4,483.6 219.3,486.9 229,484.4 234.9,483.6 243.7,483.6 250.5,480.5 262.3,479.7 274,478.1 284.7,475.2 292.5,467.4 299.4,451.8 306.2,463.5 313,462.1 320.9,458.6 328.7,453.1 334.5,457 342.3,457 349.2,479.1 357,496.7 365.8,493.75 377.5,491.8 384.9,505.9 393.3,505.9 400.5,489.8 407.3,489.8 414.2,472.7 421,468.4 429.8,467.4 437.6,470.7 449.3,470.7 455.2,473.2 465,469.3 471.8,448.4 478.6,451.2 486.4,459.6 493.3,458.6 501.5,450.4 508.5,456.25 515.7,450.4 523,452.7 529.4,445.3 536.25,450.4 544.5,457.6 551.9,448.8 559.7,446.9 565.5,446.5 572.4,457.6 579.8,456.6 587.6,467.4 594.4,456.25 601.25,464.8 609,468.75 615.9,466 623.7,470.7 630.5,458.2 638.4,462.1 647.1,462.1 652,459.6 659.5,442.6 665.7,442.6 673.5,458.6 681,441.4 687.2,479.1 695,512.9 702.8,508.4 708.7,489.8 718.4,489.8 724.7,485.5 730.2,487.9 738.4,487.9 744.8,468.4 753.6,462.9 767.3,462.9 773.3,469.7 781.5,469.7 789.7,483.1 796.9,483.1 803.1,476.9 810.2,472.2 816.4,475.9 821.5,475.9 825.6,474.2 832.8,469.7 839,469.7 848.2,470.75 854.3,468.7 861.5,460.5 867.7,435.9 875.9,429.7 889.2,430.35 897.4,441 904.6,435.3 911.8,442 917.9,453.7 928.2,453.7 934.3,455.4 940.5,455.8 947,459.1 954.8,449.2 963,446.8" fill="none" stroke="#0000ff" stroke-width="2" stroke-linejoin="round" shape-rendering="crispEdges"/>
<rect x="673.5" y="444.5" width="22" height="28" fill="none" stroke="#000" stroke-width="1"/>
<rect x="1" y="572" width="965" height="1" fill="#ff0000"/>
<rect x="1" y="627" width="965" height="1" fill="#ff0000"/>
<polyline points="4.3,566.1 10.7,603.2 18.55,626.7 26.4,637 35.2,641.3 40,644.3 44,645.8 76.2,645.8 79.1,626.7 83,600.3 89.8,579.8 97.7,565.5 105.5,568.5 112.3,564.8 119.1,570 126,593.5 132.8,608.1 140.6,615 148.4,619.5 156.25,618.9 169,613.6 178.7,626.7 184.6,635.5 191.4,640.9 197.8,642.3 201.7,644.3 205.6,644.3 214.4,630.6 219.3,606.2 227.1,581.2 234.9,579.2 240.4,568.7 246.6,563.2 255.4,557.7 264.2,556 272,555 278.9,555 285.7,557.3 291.6,555.4 295.5,571 306.2,618.9 313,633.1 321.8,639.4 334.5,641.3 342.3,644.3 345.3,645.8 377.5,645.8 384.9,643.3 393.3,636.4 399.5,640.35 407.3,644.3 410.9,617.9 414.2,598.4 421,577.85 428.8,565.2 436.6,559.7 446.4,556.4 454.2,555 462,555 471.8,558.3 477.65,580.8 486.4,618.9 492.3,630.6 502,639.4 507.9,637.4 515.7,639.4 523.5,635.9 530.4,625.7 543.1,580.4 551.9,565.2 558.1,560.3 565.5,568.1 573.5,569.5 580.7,607.15 587.6,604.2 594.4,624.7 601.25,636.4 615.9,642.3 622.7,615.9 630.5,582.3 636.4,570.6 645.2,562.2 653,557.7 658.9,556.4 665.7,560.3 670.6,574.9 681.3,618.9 687.2,631.6 696,639.4 707.7,636.4 724.3,623.4 738,576.9 745.8,564.8 755.5,558.9 767.3,555 772.3,574.1 780.5,613.1 787.7,628.4 796.9,637.1 802,636.2 810.2,640.3 817,642.4 825.2,629.5 831.8,595.2 840,572 844.1,570 853.3,561.2 860.5,557.7 867.7,556.25 875.9,559.7 883,572 889.6,606.3 897.4,600.75 904.6,622.3 910.7,633.6 918.9,640.3 930.2,644.6 933,645.8 949.7,645.8 954.4,641.2 962,627.4" fill="none" stroke="#ff0000" stroke-width="1.3" stroke-linejoin="round" shape-rendering="crispEdges"/>
<rect x="1" y="553" width="965" height="2" fill="#000"/>
<rect x="1" y="645" width="965" height="2" fill="#000"/>
<rect x="652.5" y="558.5" width="29" height="30" fill="none" stroke="#000" stroke-width="1"/>
<text x="17" y="253" font-size="13" fill="#ff0000" textLength="32" lengthAdjust="spacingAndGlyphs" filter="url(#crisp)" >1.2967</text>
<text x="17" y="340" font-size="13" fill="#ff0000" textLength="32" lengthAdjust="spacingAndGlyphs" filter="url(#crisp)" >1.2854</text>
<g shape-rendering="crispEdges"><rect x="9" y="4" width="1" height="10" fill="#000"/><rect x="6" y="6" width="7" height="6" fill="#000"/><rect x="7" y="7" width="5" height="4" fill="#0000ff"/></g>
<text x="18.5" y="14" font-size="13" fill="#000" textLength="392.5" lengthAdjust="spacingAndGlyphs" filter="url(#crisp)" xml:space="preserve">12120  EUR-USD, 1 Stunde - 22.03.2005 18:00:00 - 29.03.2005 18:00:00 - 1.2919</text>
<path d="M4 18h1v1h-1zM9 18h1v1h-1zM4 19h1v1h-1zM9 19h1v1h-1zM5 20h1v1h-1zM8 20h1v1h-1zM5 21h1v1h-1zM8 21h1v1h-1zM6 22h1v1h-1zM7 22h1v1h-1zM6 23h1v1h-1zM7 23h1v1h-1zM7 24h1v1h-1zM6 24h1v1h-1zM7 25h1v1h-1zM6 25h1v1h-1zM8 26h1v1h-1zM5 26h1v1h-1zM8 27h1v1h-1zM5 27h1v1h-1zM9 28h1v1h-1zM4 28h1v1h-1zM9 18h1v1h-1zM14 18h1v1h-1zM9 19h1v1h-1zM14 19h1v1h-1zM10 20h1v1h-1zM13 20h1v1h-1zM10 21h1v1h-1zM13 21h1v1h-1zM11 22h1v1h-1zM12 22h1v1h-1zM11 23h1v1h-1zM12 23h1v1h-1zM12 24h1v1h-1zM11 24h1v1h-1zM12 25h1v1h-1zM11 25h1v1h-1zM13 26h1v1h-1zM10 26h1v1h-1zM13 27h1v1h-1zM10 27h1v1h-1zM14 28h1v1h-1zM9 28h1v1h-1z" fill="#ff0000" shape-rendering="crispEdges"/>
<text x="19" y="28" font-size="13" fill="#ff0000" textLength="124" lengthAdjust="spacingAndGlyphs" filter="url(#crisp)" >KAMA [Close, 50]:1.29251</text>
<path d="M4 405h1v1h-1zM9 405h1v1h-1zM4 406h1v1h-1zM9 406h1v1h-1zM5 407h1v1h-1zM8 407h1v1h-1zM5 408h1v1h-1zM8 408h1v1h-1zM6 409h1v1h-1zM7 409h1v1h-1zM6 410h1v1h-1zM7 410h1v1h-1zM7 411h1v1h-1zM6 411h1v1h-1zM7 412h1v1h-1zM6 412h1v1h-1zM8 413h1v1h-1zM5 413h1v1h-1zM8 414h1v1h-1zM5 414h1v1h-1zM9 415h1v1h-1zM4 415h1v1h-1zM9 405h1v1h-1zM14 405h1v1h-1zM9 406h1v1h-1zM14 406h1v1h-1zM10 407h1v1h-1zM13 407h1v1h-1zM10 408h1v1h-1zM13 408h1v1h-1zM11 409h1v1h-1zM12 409h1v1h-1zM11 410h1v1h-1zM12 410h1v1h-1zM12 411h1v1h-1zM11 411h1v1h-1zM12 412h1v1h-1zM11 412h1v1h-1zM13 413h1v1h-1zM10 413h1v1h-1zM13 414h1v1h-1zM10 414h1v1h-1zM14 415h1v1h-1zM9 415h1v1h-1z" fill="#0000ff" shape-rendering="crispEdges"/>
<text x="18.5" y="415" font-size="13" fill="#0000ff" textLength="143" lengthAdjust="spacingAndGlyphs" filter="url(#crisp)" >DYMOI [Close, 10]:60.784703</text>
<path d="M4 539h1v1h-1zM9 539h1v1h-1zM4 540h1v1h-1zM9 540h1v1h-1zM5 541h1v1h-1zM8 541h1v1h-1zM5 542h1v1h-1zM8 542h1v1h-1zM6 543h1v1h-1zM7 543h1v1h-1zM6 544h1v1h-1zM7 544h1v1h-1zM7 545h1v1h-1zM6 545h1v1h-1zM7 546h1v1h-1zM6 546h1v1h-1zM8 547h1v1h-1zM5 547h1v1h-1zM8 548h1v1h-1zM5 548h1v1h-1zM9 549h1v1h-1zM4 549h1v1h-1zM9 539h1v1h-1zM14 539h1v1h-1zM9 540h1v1h-1zM14 540h1v1h-1zM10 541h1v1h-1zM13 541h1v1h-1zM10 542h1v1h-1zM13 542h1v1h-1zM11 543h1v1h-1zM12 543h1v1h-1zM11 544h1v1h-1zM12 544h1v1h-1zM12 545h1v1h-1zM11 545h1v1h-1zM12 546h1v1h-1zM11 546h1v1h-1zM13 547h1v1h-1zM10 547h1v1h-1zM13 548h1v1h-1zM10 548h1v1h-1zM14 549h1v1h-1zM9 549h1v1h-1z" fill="#ff0000" shape-rendering="crispEdges"/>
<text x="19" y="549" font-size="13" fill="#ff0000" textLength="163.5" lengthAdjust="spacingAndGlyphs" filter="url(#crisp)" >DSS-BRESSERT [8, 3]:21.424361</text>
<text transform="translate(17,551) scale(0.83,1)" font-size="13" fill="#000" text-anchor="start" filter="url(#crisp)" >100</text>
<text transform="translate(16.5,643) scale(0.83,1)" font-size="13" fill="#000" text-anchor="start" filter="url(#crisp)" >0</text>
<g shape-rendering="crispEdges"><rect x="967" y="0" width="57" height="666" fill="#cccccc"/><rect x="967" y="0" width="56" height="1" fill="#a0a0a0"/><rect x="967" y="0" width="1" height="399" fill="#a0a0a0"/><rect x="967" y="399" width="57" height="1" fill="#ffffff"/><rect x="1023" y="0" width="1" height="400" fill="#ffffff"/><rect x="967" y="400" width="56" height="1" fill="#a0a0a0"/><rect x="967" y="400" width="1" height="17" fill="#a0a0a0"/><rect x="967" y="417" width="57" height="1" fill="#ffffff"/><rect x="1023" y="400" width="1" height="18" fill="#ffffff"/><rect x="967" y="418" width="56" height="1" fill="#a0a0a0"/><rect x="967" y="418" width="1" height="115" fill="#a0a0a0"/><rect x="967" y="533" width="57" height="1" fill="#ffffff"/><rect x="1023" y="418" width="1" height="116" fill="#ffffff"/><rect x="967" y="534" width="56" height="1" fill="#a0a0a0"/><rect x="967" y="534" width="1" height="18" fill="#a0a0a0"/><rect x="967" y="552" width="57" height="1" fill="#ffffff"/><rect x="1023" y="534" width="1" height="19" fill="#ffffff"/><rect x="967" y="553" width="56" height="1" fill="#a0a0a0"/><rect x="967" y="553" width="1" height="113" fill="#a0a0a0"/><rect x="967" y="666" width="57" height="1" fill="#ffffff"/><rect x="1023" y="553" width="1" height="114" fill="#ffffff"/></g>
<path d="M969 3h1v1h-1zM969 7h1v1h-1zM969 11h1v1h-1zM969 14h1v1h-1zM969 18h1v1h-1zM969 22h1v1h-1zM969 26h1v1h-1zM969 34h1v1h-1zM969 38h1v1h-1zM969 41h1v1h-1zM969 49h1v1h-1zM969 53h1v1h-1zM969 57h1v1h-1zM969 65h1v1h-1zM969 68h1v1h-1zM969 72h1v1h-1zM969 80h1v1h-1zM969 84h1v1h-1zM969 88h1v1h-1zM969 96h1v1h-1zM969 99h1v1h-1zM969 103h1v1h-1zM969 111h1v1h-1zM969 115h1v1h-1zM969 119h1v1h-1zM969 126h1v1h-1zM969 130h1v1h-1zM969 134h1v1h-1zM969 142h1v1h-1zM969 146h1v1h-1zM969 150h1v1h-1zM969 157h1v1h-1zM969 161h1v1h-1zM969 165h1v1h-1zM969 173h1v1h-1zM969 177h1v1h-1zM969 180h1v1h-1zM969 188h1v1h-1zM969 192h1v1h-1zM969 196h1v1h-1zM969 204h1v1h-1zM969 208h1v1h-1zM969 211h1v1h-1zM969 219h1v1h-1zM969 223h1v1h-1zM969 227h1v1h-1zM969 235h1v1h-1zM969 238h1v1h-1zM969 242h1v1h-1zM969 250h1v1h-1zM969 254h1v1h-1zM969 258h1v1h-1zM969 265h1v1h-1zM969 269h1v1h-1zM969 273h1v1h-1zM969 281h1v1h-1zM969 285h1v1h-1zM969 289h1v1h-1zM969 296h1v1h-1zM969 300h1v1h-1zM969 304h1v1h-1zM969 312h1v1h-1zM969 316h1v1h-1zM969 320h1v1h-1zM969 327h1v1h-1zM969 331h1v1h-1zM969 335h1v1h-1zM969 343h1v1h-1zM969 347h1v1h-1zM969 350h1v1h-1zM969 358h1v1h-1zM969 362h1v1h-1zM969 366h1v1h-1zM969 374h1v1h-1zM969 377h1v1h-1zM969 381h1v1h-1zM969 389h1v1h-1zM969 393h1v1h-1zM969 397h1v1h-1zM969 430h1v1h-1zM969 436h1v1h-1zM969 441h1v1h-1zM969 453h1v1h-1zM969 458h1v1h-1zM969 464h1v1h-1zM969 475h1v1h-1zM969 480h1v1h-1zM969 486h1v1h-1zM969 497h1v1h-1zM969 503h1v1h-1zM969 508h1v1h-1zM969 520h1v1h-1zM969 525h1v1h-1zM969 531h1v1h-1zM969 558h1v1h-1zM969 563h1v1h-1zM969 567h1v1h-1zM969 577h1v1h-1zM969 581h1v1h-1zM969 586h1v1h-1zM969 595h1v1h-1zM969 600h1v1h-1zM969 604h1v1h-1zM969 614h1v1h-1zM969 618h1v1h-1zM969 623h1v1h-1zM969 632h1v1h-1zM969 637h1v1h-1zM969 641h1v1h-1zM969 651h1v1h-1zM969 655h1v1h-1zM969 660h1v1h-1zM969 30h3v1h-3zM969 45h3v1h-3zM969 61h3v1h-3zM969 76h3v1h-3zM969 92h3v1h-3zM969 107h3v1h-3zM969 123h3v1h-3zM969 138h3v1h-3zM969 153h3v1h-3zM969 169h3v1h-3zM969 184h3v1h-3zM969 200h3v1h-3zM969 215h3v1h-3zM969 231h3v1h-3zM969 246h3v1h-3zM969 262h3v1h-3zM969 277h3v1h-3zM969 292h3v1h-3zM969 308h3v1h-3zM969 323h3v1h-3zM969 339h3v1h-3zM969 354h3v1h-3zM969 370h3v1h-3zM969 385h3v1h-3zM969 447h3v1h-3zM969 469h3v1h-3zM969 491h3v1h-3zM969 514h3v1h-3zM969 572h3v1h-3zM969 591h3v1h-3zM969 609h3v1h-3zM969 628h3v1h-3zM969 646h3v1h-3z" fill="#000080" shape-rendering="crispEdges"/>
<text transform="translate(974.5,35) scale(0.83,1)" font-size="13" fill="#000080" text-anchor="start" filter="url(#crisp)" >1,326</text>
<text transform="translate(974.5,50) scale(0.83,1)" font-size="13" fill="#000080" text-anchor="start" filter="url(#crisp)" >1,324</text>
<text transform="translate(974.5,66) scale(0.83,1)" font-size="13" fill="#000080" text-anchor="start" filter="url(#crisp)" >1,322</text>
<text transform="translate(974.5,81) scale(0.83,1)" font-size="13" fill="#000080" text-anchor="start" filter="url(#crisp)" >1,32</text>
<text transform="translate(974.5,97) scale(0.83,1)" font-size="13" fill="#000080" text-anchor="start" filter="url(#crisp)" >1,318</text>
<text transform="translate(974.5,112) scale(0.83,1)" font-size="13" fill="#000080" text-anchor="start" filter="url(#crisp)" >1,316</text>
<text transform="translate(974.5,128) scale(0.83,1)" font-size="13" fill="#000080" text-anchor="start" filter="url(#crisp)" >1,314</text>
<text transform="translate(974.5,143) scale(0.83,1)" font-size="13" fill="#000080" text-anchor="start" filter="url(#crisp)" >1,312</text>
<text transform="translate(974.5,158) scale(0.83,1)" font-size="13" fill="#000080" text-anchor="start" filter="url(#crisp)" >1,31</text>
<text transform="translate(974.5,174) scale(0.83,1)" font-size="13" fill="#000080" text-anchor="start" filter="url(#crisp)" >1,308</text>
<text transform="translate(974.5,189) scale(0.83,1)" font-size="13" fill="#000080" text-anchor="start" filter="url(#crisp)" >1,306</text>
<text transform="translate(974.5,205) scale(0.83,1)" font-size="13" fill="#000080" text-anchor="start" filter="url(#crisp)" >1,304</text>
<text transform="translate(974.5,220) scale(0.83,1)" font-size="13" fill="#000080" text-anchor="start" filter="url(#crisp)" >1,302</text>
<text transform="translate(974.5,236) scale(0.83,1)" font-size="13" fill="#000080" text-anchor="start" filter="url(#crisp)" >1,3</text>
<text transform="translate(974.5,251) scale(0.83,1)" font-size="13" fill="#000080" text-anchor="start" filter="url(#crisp)" >1,298</text>
<text transform="translate(974.5,267) scale(0.83,1)" font-size="13" fill="#000080" text-anchor="start" filter="url(#crisp)" >1,296</text>
<text transform="translate(974.5,282) scale(0.83,1)" font-size="13" fill="#000080" text-anchor="start" filter="url(#crisp)" >1,294</text>
<text transform="translate(974.5,297) scale(0.83,1)" font-size="13" fill="#000080" text-anchor="start" filter="url(#crisp)" >1,292</text>
<text transform="translate(974.5,313) scale(0.83,1)" font-size="13" fill="#000080" text-anchor="start" filter="url(#crisp)" >1,29</text>
<text transform="translate(974.5,328) scale(0.83,1)" font-size="13" fill="#000080" text-anchor="start" filter="url(#crisp)" >1,288</text>
<text transform="translate(974.5,344) scale(0.83,1)" font-size="13" fill="#000080" text-anchor="start" filter="url(#crisp)" >1,286</text>
<text transform="translate(974.5,359) scale(0.83,1)" font-size="13" fill="#000080" text-anchor="start" filter="url(#crisp)" >1,284</text>
<text transform="translate(974.5,375) scale(0.83,1)" font-size="13" fill="#000080" text-anchor="start" filter="url(#crisp)" >1,282</text>
<text transform="translate(974.5,390) scale(0.83,1)" font-size="13" fill="#000080" text-anchor="start" filter="url(#crisp)" >1,28</text>
<text transform="translate(974.5,452) scale(0.83,1)" font-size="13" fill="#000080" text-anchor="start" filter="url(#crisp)" >60</text>
<text transform="translate(974.5,474) scale(0.83,1)" font-size="13" fill="#000080" text-anchor="start" filter="url(#crisp)" >40</text>
<text transform="translate(974.5,496) scale(0.83,1)" font-size="13" fill="#000080" text-anchor="start" filter="url(#crisp)" >20</text>
<text transform="translate(974.5,519) scale(0.83,1)" font-size="13" fill="#000080" text-anchor="start" filter="url(#crisp)" >0</text>
<text transform="translate(974.5,577) scale(0.83,1)" font-size="13" fill="#000080" text-anchor="start" filter="url(#crisp)" >80</text>
<text transform="translate(974.5,596) scale(0.83,1)" font-size="13" fill="#000080" text-anchor="start" filter="url(#crisp)" >60</text>
<text transform="translate(974.5,614) scale(0.83,1)" font-size="13" fill="#000080" text-anchor="start" filter="url(#crisp)" >40</text>
<text transform="translate(974.5,633) scale(0.83,1)" font-size="13" fill="#000080" text-anchor="start" filter="url(#crisp)" >20</text>
<text transform="translate(974.5,651) scale(0.83,1)" font-size="13" fill="#000080" text-anchor="start" filter="url(#crisp)" >0</text>
<clipPath id="cb"><rect x="968" y="535" width="55" height="17"/></clipPath>
<text transform="translate(1020.5,414) scale(0.83,1)" font-size="13" fill="#000080" text-anchor="end" filter="url(#crisp)" >DYMOI</text>
<g clip-path="url(#cb)"><text transform="translate(1020.5,548) scale(0.83,1)" font-size="13" fill="#000080" text-anchor="end" filter="url(#crisp)" >DSS-BRESSERT</text></g>
<g shape-rendering="crispEdges"><rect x="0" y="668" width="967" height="1" fill="#a0a0a0"/><rect x="0" y="668" width="1" height="31" fill="#a0a0a0"/><rect x="0" y="699" width="967" height="1" fill="#ffffff"/><rect x="966" y="667" width="1" height="33" fill="#ffffff"/><rect x="967" y="666" width="57" height="1" fill="#ffffff"/><rect x="4" y="669" width="1" height="5" fill="#000080"/><rect x="47" y="669" width="1" height="5" fill="#000080"/><rect x="90" y="669" width="1" height="5" fill="#000080"/><rect x="133" y="669" width="1" height="5" fill="#000080"/><rect x="177" y="669" width="1" height="5" fill="#000080"/><rect x="220" y="669" width="1" height="5" fill="#000080"/><rect x="263" y="669" width="1" height="5" fill="#000080"/><rect x="306" y="669" width="1" height="5" fill="#000080"/><rect x="349" y="669" width="1" height="5" fill="#000080"/><rect x="393" y="669" width="1" height="5" fill="#000080"/><rect x="436" y="669" width="1" height="5" fill="#000080"/><rect x="479" y="669" width="1" height="5" fill="#000080"/><rect x="522" y="669" width="1" height="5" fill="#000080"/><rect x="565" y="669" width="1" height="5" fill="#000080"/><rect x="580" y="669" width="1" height="5" fill="#000080"/><rect x="601" y="669" width="1" height="5" fill="#000080"/><rect x="623" y="669" width="1" height="5" fill="#000080"/><rect x="659" y="669" width="1" height="5" fill="#000080"/><rect x="702" y="669" width="1" height="5" fill="#000080"/><rect x="745" y="669" width="1" height="5" fill="#000080"/><rect x="789" y="669" width="1" height="5" fill="#000080"/><rect x="832" y="669" width="1" height="5" fill="#000080"/><rect x="875" y="669" width="1" height="5" fill="#000080"/><rect x="918" y="669" width="1" height="5" fill="#000080"/></g>
<text transform="translate(24,687) scale(0.83,1)" font-size="13" fill="#000080" text-anchor="middle" filter="url(#crisp)" >18:00</text>
<text transform="translate(66.75,687) scale(0.83,1)" font-size="13" fill="#000080" text-anchor="middle" filter="url(#crisp)" >23.</text>
<text transform="translate(110,687) scale(0.83,1)" font-size="13" fill="#000080" text-anchor="middle" filter="url(#crisp)" >06:00</text>
<text transform="translate(154,687) scale(0.83,1)" font-size="13" fill="#000080" text-anchor="middle" filter="url(#crisp)" >12:00</text>
<text transform="translate(197,687) scale(0.83,1)" font-size="13" fill="#000080" text-anchor="middle" filter="url(#crisp)" >18:00</text>
<text transform="translate(240,687) scale(0.83,1)" font-size="13" fill="#000080" text-anchor="middle" filter="url(#crisp)" >24.</text>
<text transform="translate(283,687) scale(0.83,1)" font-size="13" fill="#000080" text-anchor="middle" filter="url(#crisp)" >06:00</text>
<text transform="translate(326,687) scale(0.83,1)" font-size="13" fill="#000080" text-anchor="middle" filter="url(#crisp)" >12:00</text>
<text transform="translate(370,687) scale(0.83,1)" font-size="13" fill="#000080" text-anchor="middle" filter="url(#crisp)" >18:00</text>
<text transform="translate(413,687) scale(0.83,1)" font-size="13" fill="#000080" text-anchor="middle" filter="url(#crisp)" >25.</text>
<text transform="translate(456,687) scale(0.83,1)" font-size="13" fill="#000080" text-anchor="middle" filter="url(#crisp)" >06:00</text>
<text transform="translate(499,687) scale(0.83,1)" font-size="13" fill="#000080" text-anchor="middle" filter="url(#crisp)" >12:00</text>
<text transform="translate(542,687) scale(0.83,1)" font-size="13" fill="#000080" text-anchor="middle" filter="url(#crisp)" >18:00</text>
<text transform="translate(572.5,687) scale(0.83,1)" font-size="13" fill="#000080" text-anchor="middle" filter="url(#crisp)" >26.</text>
<text transform="translate(610.6,687) scale(0.83,1)" font-size="13" fill="#000080" text-anchor="middle" filter="url(#crisp)" >27.</text>
<text transform="translate(639.8,687) scale(0.83,1)" font-size="13" fill="#000080" text-anchor="middle" filter="url(#crisp)" >19:00</text>
<text transform="translate(678.5,687) scale(0.83,1)" font-size="13" fill="#000080" text-anchor="middle" filter="url(#crisp)" >28.</text>
<text transform="translate(722,687) scale(0.83,1)" font-size="13" fill="#000080" text-anchor="middle" filter="url(#crisp)" >06:00</text>
<text transform="translate(766,687) scale(0.83,1)" font-size="13" fill="#000080" text-anchor="middle" filter="url(#crisp)" >12:00</text>
<text transform="translate(809,687) scale(0.83,1)" font-size="13" fill="#000080" text-anchor="middle" filter="url(#crisp)" >18:00</text>
<text transform="translate(851,687) scale(0.83,1)" font-size="13" fill="#000080" text-anchor="middle" filter="url(#crisp)" >29.</text>
<text transform="translate(895,687) scale(0.83,1)" font-size="13" fill="#000080" text-anchor="middle" filter="url(#crisp)" >06:00</text>
<text transform="translate(936,687) scale(0.83,1)" font-size="13" fill="#000080" text-anchor="middle" filter="url(#crisp)" >12:00</text>
<text transform="translate(336.5,709) scale(0.85,1)" font-size="10" fill="#999999" textLength="411.8" lengthAdjust="spacing" filter="url(#crisp)">TradeSignal® and www.technical-investor.de © by SystemSoft, www.systemsoft.de</text></svg></body></html>
